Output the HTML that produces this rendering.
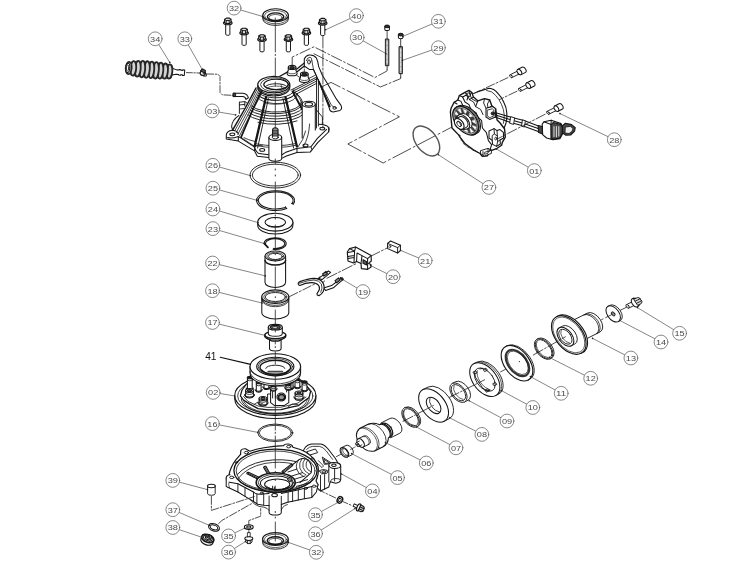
<!DOCTYPE html>
<html><head><meta charset="utf-8"><title>Exploded view</title>
<style>
html,body{margin:0;padding:0;background:#fff;}
svg{display:block;font-family:"Liberation Sans",sans-serif;}
</style></head><body>
<svg width="737" height="573" viewBox="0 0 737 573" stroke-linecap="round" stroke-linejoin="round">
<rect width="737" height="573" fill="#fff"/>
<defs><filter id="soft" x="0" y="0" width="100%" height="100%" filterUnits="userSpaceOnUse"><feGaussianBlur stdDeviation="0.38"/></filter></defs>
<g filter="url(#soft)">
<path d="M262.8 15.2 v3.8 A12.8 6.4 0 0 0 288.40000000000003 19.0 v-3.8" fill="#fff" stroke="#141414" stroke-width="0.91" />
<path d="M262.8 17.4 A12.8 6.4 0 0 0 288.40000000000003 17.4" fill="none" stroke="#141414" stroke-width="0.68" />
<ellipse cx="275.6" cy="15.2" rx="12.8" ry="6.4" fill="#fff" stroke="#141414" stroke-width="1.14" />
<ellipse cx="275.6" cy="15.6" rx="11.0" ry="5.2" fill="none" stroke="#141414" stroke-width="0.68" />
<ellipse cx="275.6" cy="16.8" rx="8.2" ry="3.9" fill="none" stroke="#141414" stroke-width="1.37" />
<ellipse cx="275.6" cy="17.4" rx="6.6" ry="2.9" fill="none" stroke="#141414" stroke-width="0.68" />
<path d="M225.70000000000002 24.7 V34.3 a2.1 1 0 0 0 4.2 0 V24.7" fill="#fff" stroke="#141414" stroke-width="0.97" />
<path d="M223.5 22.9 a4.3 1.9 0 0 0 8.6 0 a4.3 1.9 0 0 0 -8.6 0z" fill="#ccc" stroke="#141414" stroke-width="1.14" />
<path d="M224.60000000000002 19.4 L226.4 18.099999999999998 L229.4 18.099999999999998 L231.0 19.4 L231.0 22.5 L229.20000000000002 23.599999999999998 L226.20000000000002 23.599999999999998 L224.60000000000002 22.5z" fill="#ddd" stroke="#141414" stroke-width="1.14" />
<path d="M224.60000000000002 19.4 L226.20000000000002 20.5 L229.20000000000002 20.5 L231.0 19.4 M226.20000000000002 20.5 V23.599999999999998 M229.20000000000002 20.5 V23.599999999999998" fill="none" stroke="#141414" stroke-width="0.91" />
<path d="M242.0 34.8 V44.4 a2.1 1 0 0 0 4.2 0 V34.8" fill="#fff" stroke="#141414" stroke-width="0.97" />
<path d="M239.79999999999998 33.0 a4.3 1.9 0 0 0 8.6 0 a4.3 1.9 0 0 0 -8.6 0z" fill="#ccc" stroke="#141414" stroke-width="1.14" />
<path d="M240.9 29.5 L242.7 28.2 L245.7 28.2 L247.29999999999998 29.5 L247.29999999999998 32.6 L245.5 33.7 L242.5 33.7 L240.9 32.6z" fill="#ddd" stroke="#141414" stroke-width="1.14" />
<path d="M240.9 29.5 L242.5 30.6 L245.5 30.6 L247.29999999999998 29.5 M242.5 30.6 V33.7 M245.5 30.6 V33.7" fill="none" stroke="#141414" stroke-width="0.91" />
<path d="M259.9 41.3 V50.9 a2.1 1 0 0 0 4.2 0 V41.3" fill="#fff" stroke="#141414" stroke-width="0.97" />
<path d="M257.7 39.5 a4.3 1.9 0 0 0 8.6 0 a4.3 1.9 0 0 0 -8.6 0z" fill="#ccc" stroke="#141414" stroke-width="1.14" />
<path d="M258.8 36.0 L260.6 34.699999999999996 L263.6 34.699999999999996 L265.2 36.0 L265.2 39.099999999999994 L263.4 40.199999999999996 L260.4 40.199999999999996 L258.8 39.099999999999994z" fill="#ddd" stroke="#141414" stroke-width="1.14" />
<path d="M258.8 36.0 L260.4 37.099999999999994 L263.4 37.099999999999994 L265.2 36.0 M260.4 37.099999999999994 V40.199999999999996 M263.4 37.099999999999994 V40.199999999999996" fill="none" stroke="#141414" stroke-width="0.91" />
<path d="M286.29999999999995 41.3 V50.9 a2.1 1 0 0 0 4.2 0 V41.3" fill="#fff" stroke="#141414" stroke-width="0.97" />
<path d="M284.09999999999997 39.5 a4.3 1.9 0 0 0 8.6 0 a4.3 1.9 0 0 0 -8.6 0z" fill="#ccc" stroke="#141414" stroke-width="1.14" />
<path d="M285.2 36.0 L287.0 34.699999999999996 L290.0 34.699999999999996 L291.59999999999997 36.0 L291.59999999999997 39.099999999999994 L289.79999999999995 40.199999999999996 L286.79999999999995 40.199999999999996 L285.2 39.099999999999994z" fill="#ddd" stroke="#141414" stroke-width="1.14" />
<path d="M285.2 36.0 L286.79999999999995 37.099999999999994 L289.79999999999995 37.099999999999994 L291.59999999999997 36.0 M286.79999999999995 37.099999999999994 V40.199999999999996 M289.79999999999995 37.099999999999994 V40.199999999999996" fill="none" stroke="#141414" stroke-width="0.91" />
<path d="M304.29999999999995 34.8 V44.4 a2.1 1 0 0 0 4.2 0 V34.8" fill="#fff" stroke="#141414" stroke-width="0.97" />
<path d="M302.09999999999997 33.0 a4.3 1.9 0 0 0 8.6 0 a4.3 1.9 0 0 0 -8.6 0z" fill="#ccc" stroke="#141414" stroke-width="1.14" />
<path d="M303.2 29.5 L305.0 28.2 L308.0 28.2 L309.59999999999997 29.5 L309.59999999999997 32.6 L307.79999999999995 33.7 L304.79999999999995 33.7 L303.2 32.6z" fill="#ddd" stroke="#141414" stroke-width="1.14" />
<path d="M303.2 29.5 L304.79999999999995 30.6 L307.79999999999995 30.6 L309.59999999999997 29.5 M304.79999999999995 30.6 V33.7 M307.79999999999995 30.6 V33.7" fill="none" stroke="#141414" stroke-width="0.91" />
<path d="M320.59999999999997 25 V34.6 a2.1 1 0 0 0 4.2 0 V25" fill="#fff" stroke="#141414" stroke-width="0.97" />
<path d="M318.4 23.2 a4.3 1.9 0 0 0 8.6 0 a4.3 1.9 0 0 0 -8.6 0z" fill="#ccc" stroke="#141414" stroke-width="1.14" />
<path d="M319.5 19.7 L321.3 18.4 L324.3 18.4 L325.9 19.7 L325.9 22.8 L324.09999999999997 23.9 L321.09999999999997 23.9 L319.5 22.8z" fill="#ddd" stroke="#141414" stroke-width="1.14" />
<path d="M319.5 19.7 L321.09999999999997 20.8 L324.09999999999997 20.8 L325.9 19.7 M321.09999999999997 20.8 V23.9 M324.09999999999997 20.8 V23.9" fill="none" stroke="#141414" stroke-width="0.91" />
<g transform="rotate(4.9 150 70)">
<path d="M172 66.4 l4.6 1.2 h2.4 v-0.6 h2 v0.6 h1.6 v-0.6 h2 v5.6 h-2 v-0.6 h-1.6 v0.6 h-2 v-0.6 h-2.4 l-4.6 1.2z" fill="#fff" stroke="#141414" stroke-width="1.03" />
<ellipse cx="169.5" cy="69.8" rx="2.9" ry="7.1" fill="#d4d4d4" stroke="#262626" stroke-width="1.82" />
<ellipse cx="165.0" cy="69.8" rx="2.9" ry="7.6" fill="#d4d4d4" stroke="#262626" stroke-width="1.82" />
<ellipse cx="160.4" cy="69.8" rx="2.9" ry="8.0" fill="#d4d4d4" stroke="#262626" stroke-width="1.82" />
<ellipse cx="155.9" cy="69.8" rx="2.9" ry="8.2" fill="#d4d4d4" stroke="#262626" stroke-width="1.82" />
<ellipse cx="151.3" cy="69.8" rx="2.9" ry="8.3" fill="#d4d4d4" stroke="#262626" stroke-width="1.82" />
<ellipse cx="146.8" cy="69.8" rx="2.9" ry="8.3" fill="#d4d4d4" stroke="#262626" stroke-width="1.82" />
<ellipse cx="142.2" cy="69.8" rx="2.9" ry="8.2" fill="#d4d4d4" stroke="#262626" stroke-width="1.82" />
<ellipse cx="137.7" cy="69.8" rx="2.9" ry="7.9" fill="#d4d4d4" stroke="#262626" stroke-width="1.82" />
<ellipse cx="133.2" cy="69.8" rx="2.9" ry="7.3" fill="#d4d4d4" stroke="#262626" stroke-width="1.82" />
<ellipse cx="128.6" cy="69.8" rx="2.9" ry="6.2" fill="#d4d4d4" stroke="#262626" stroke-width="1.82" />
<ellipse cx="127.7" cy="69.8" rx="2.0" ry="4.6" fill="#fff" stroke="#141414" stroke-width="1.03" />
<ellipse cx="127.5" cy="69.8" rx="1.2" ry="3.2" fill="none" stroke="#141414" stroke-width="0.80" />
</g>
<path d="M186.4 72.6 L199.6 73.0" fill="none" stroke="#222" stroke-width="0.80" stroke-dasharray="6 1.5 1.5 1.5"/>
<g transform="translate(-0.4 2.2)">
<path d="M200.6 70.6 a2.6 2.3 0 1 0 5.2 0.6 a2.6 2.3 0 1 0 -5.2 -0.6z" fill="#fff" stroke="#141414" stroke-width="1.25" />
<path d="M200.8 68.6 l2.2 -1.8 l2.8 1.4 l-0.4 2.4 l-2.6 -0.8z" fill="#555" stroke="#141414" stroke-width="1.03" />
<path d="M203.5 71.5 h3.2 v2.4 h-2.8" fill="none" stroke="#141414" stroke-width="0.91" />
</g>
<path d="M206.6 74.0 L218 74.2 L220.0 76.5 L220.0 92.5 L222.2 94.8 L233 95.4" fill="none" stroke="#222" stroke-width="0.80" stroke-dasharray="7 1.6 1.6 1.6"/>
<path d="M304.3 66 L304.3 59 Q305.6 55.6 309 55 Q313.6 54.4 316.4 58 Q318 61.4 318.6 66.4 L322.2 75 L328.7 85.8 L336.3 98.9 L341 105.4 Q342.6 108.6 340 110.4 L333 112 Q329.6 111.4 329.4 108.4 L318.9 81.5 L313.5 69.5 L309.6 69.6z" fill="#fff" stroke="#141414" stroke-width="1.03" />
<path d="M311.9 60.9 L313.5 69.5 L317.8 79.3 L325.4 93.4 L331 104.4 Q332.4 107.6 335.6 107.2" fill="none" stroke="#141414" stroke-width="0.80" />
<path d="M306.4 60.6 Q307 57.6 310 57.2 Q312 57.4 311.9 60.9" fill="none" stroke="#141414" stroke-width="0.80" />
<path d="M318.9 81.5 L329.8 106.5" fill="none" stroke="#141414" stroke-width="1.71" />
<ellipse cx="309.0" cy="62.0" rx="1.4" ry="2.1" fill="none" stroke="#141414" stroke-width="0.91" />
<ellipse cx="334.6" cy="108.0" rx="1.7" ry="1.3" fill="none" stroke="#141414" stroke-width="0.91" />
<path d="M316.5 78.2 V128 M318.4 79.6 V126" fill="none" stroke="#141414" stroke-width="0.91" />
<path d="M288.5 91.3 L316.7 77.1 M289.4 92.9 L316.7 78.9 M290.6 94.6 L316.7 81 M292 96.4 L316.5 83.4" fill="none" stroke="#141414" stroke-width="0.91" />
<path d="M279 76.8 L288.2 71.6 M296.6 69.2 L304.3 63 M297.4 71.4 L304.3 66" fill="none" stroke="#141414" stroke-width="1.25" />
<path d="M296.8 75.4 L300 77.6 M308.8 78.4 L314.6 75.6" fill="none" stroke="#141414" stroke-width="0.80" />
<path d="M288.3 67.4 v3 q-1.2 1.6 -1.2 3 a5 2.4 0 0 0 10 0 q0 -1.4 -1.2 -3 v-3" fill="#fff" stroke="#141414" stroke-width="1.03" />
<path d="M287.70000000000005 71.80000000000001 a4.4 2 0 0 0 8.8 0" fill="none" stroke="#141414" stroke-width="0.68" />
<ellipse cx="292.1" cy="67.4" rx="3.8" ry="2.0" fill="#fff" stroke="#141414" stroke-width="1.14" />
<ellipse cx="292.1" cy="67.60000000000001" rx="2.3" ry="1.15" fill="#333" stroke="#141414" stroke-width="1.14" />
<path d="M300.5 74.1 v3 q-1.2 1.6 -1.2 3 a5 2.4 0 0 0 10 0 q0 -1.4 -1.2 -3 v-3" fill="#fff" stroke="#141414" stroke-width="1.03" />
<path d="M299.90000000000003 78.5 a4.4 2 0 0 0 8.8 0" fill="none" stroke="#141414" stroke-width="0.68" />
<ellipse cx="304.3" cy="74.1" rx="3.8" ry="2.0" fill="#fff" stroke="#141414" stroke-width="1.14" />
<ellipse cx="304.3" cy="74.3" rx="2.3" ry="1.15" fill="#333" stroke="#141414" stroke-width="1.14" />
<path d="M296.6 93.6 Q302.4 98 303.4 106 M316.5 110 L322.4 117 L322.4 124.6" fill="none" stroke="#141414" stroke-width="0.91" />
<path d="M259.8 90 L234 131 L254 148 L297 148 L303 128 L303 106 Q301 97 290 90z" fill="#fff" stroke="#fff" stroke-width="0.01" />
<path d="M259 93.3 A18.4 8 0 0 0 294.0 89.6" fill="none" stroke="#141414" stroke-width="0.91" />
<path d="M258.5 95.3 A19 8 0 0 0 295.0 91.6" fill="none" stroke="#141414" stroke-width="1.03" />
<path d="M257.5 97.6 A20 8.4 0 0 0 296.4 93.8" fill="none" stroke="#141414" stroke-width="0.80" />
<path d="M264 102.8 A20.6 8.6 0 0 0 287 102.7" fill="none" stroke="#141414" stroke-width="0.68" />
<path d="M251.5 105.9 A26 10 0 0 0 301.5 101.9" fill="none" stroke="#141414" stroke-width="0.91" />
<path d="M251 107.8 A26.8 10.2 0 0 0 302 104.4" fill="none" stroke="#141414" stroke-width="0.91" />
<path d="M250 110.1 A28 10.6 0 0 0 302.6 108.0" fill="none" stroke="#141414" stroke-width="0.91" />
<path d="M249 112.5 A29 11 0 0 0 303 111.2" fill="none" stroke="#141414" stroke-width="0.91" />
<path d="M248 114.9 A30 11.4 0 0 0 303.2 114.4" fill="none" stroke="#141414" stroke-width="0.91" />
<path d="M258 122.3 A31 11.8 0 0 0 297 120.9" fill="none" stroke="#141414" stroke-width="0.91" />
<path d="M256 143.8 A38 13 0 0 0 296 143.5" fill="none" stroke="#141414" stroke-width="0.80" />
<path d="M255 145.4 A38.6 13.2 0 0 0 297 145.1" fill="none" stroke="#141414" stroke-width="0.80" />
<path d="M244 137.7 A37 12.6 0 0 0 255 141.5" fill="none" stroke="#141414" stroke-width="0.80" />
<path d="M257.8 85 v2.6 A16 8.4 0 0 0 289.8 87.6 v-2.6" fill="#fff" stroke="#141414" stroke-width="1.03" />
<path d="M257.8 86.4 A16 8.4 0 0 0 289.8 86.4" fill="none" stroke="#141414" stroke-width="0.91" />
<ellipse cx="273.8" cy="84.6" rx="16" ry="8.3" fill="#fff" stroke="#141414" stroke-width="1.25" />
<ellipse cx="274.6" cy="84.6" rx="14" ry="6.9" fill="none" stroke="#141414" stroke-width="0.80" />
<ellipse cx="276" cy="84.4" rx="12.2" ry="5.2" fill="none" stroke="#141414" stroke-width="1.25" />
<path d="M265.4 86.6 A11.4 4.2 0 0 1 287 86.6" fill="none" stroke="#141414" stroke-width="0.91" />
<path d="M266.8 88.2 A10 3.2 0 0 1 285.6 88.2" fill="none" stroke="#141414" stroke-width="0.68" />
<path d="M281 84.4 l0.8 3.4" fill="none" stroke="#141414" stroke-width="0.68" />
<path d="M266 97.2 L254.6 146.4" fill="none" stroke="#141414" stroke-width="2.28" />
<path d="M268.4 98.6 L257.6 148" fill="none" stroke="#141414" stroke-width="0.91" />
<path d="M285.5 97.2 L296.9 146.4" fill="none" stroke="#141414" stroke-width="2.28" />
<path d="M283 98.6 L293.6 148" fill="none" stroke="#141414" stroke-width="0.91" />
<path d="M292.6 91.6 L302 109" fill="none" stroke="#141414" stroke-width="1.94" />
<path d="M295.4 92.4 Q300.6 98.4 302 104" fill="none" stroke="#141414" stroke-width="0.80" />
<path d="M256 88 L245.3 108 L232.9 129.6" fill="none" stroke="#141414" stroke-width="1.48" />
<path d="M262 91 L253.5 108 L241 137.3" fill="none" stroke="#141414" stroke-width="1.71" />
<path d="M257.4 88.8 L246.8 109 L234.6 131 M258.8 89.6 L248.4 110 L236.2 132.6 M260 90.4 L250 111 L237.8 134.4 M261 91 L251.6 112 L239.4 136" fill="none" stroke="#141414" stroke-width="0.80" />
<path d="M239.4 102.2 L244.8 101.6 L247 103 M239.4 102.2 V113.4 M244.8 101.6 V106 M239.4 105 L244.6 104.4" fill="none" stroke="#141414" stroke-width="0.91" />
<path d="M238.8 115.6 Q232 120 231.6 126.6 L232.6 130" fill="none" stroke="#141414" stroke-width="1.03" />
<path d="M240 109 l4 -0.6" fill="none" stroke="#141414" stroke-width="0.80" />
<path d="M302.2 104.2 V139 L315.3 131 V104.2z" fill="#fff" stroke="#fff" stroke-width="0.01" />
<path d="M302.2 104.2 V138 M315.3 104.2 V130" fill="none" stroke="#141414" stroke-width="1.03" />
<ellipse cx="308.75" cy="104.2" rx="6.55" ry="3.0" fill="#fff" stroke="#141414" stroke-width="1.14" />
<ellipse cx="308.75" cy="104.3" rx="3.8" ry="1.7" fill="none" stroke="#141414" stroke-width="1.03" />
<path d="M305.6 131 Q303.6 140 298 147 M309.6 124 Q309 137 303.6 146" fill="none" stroke="#141414" stroke-width="0.80" />
<path d="M226.3 135.1 Q226.6 131 232.3 130.3 Q237.6 130.6 238.3 134 M226.3 135.1 V139 L238.3 141.1 L254.6 150.9 L257.3 156.3 L268.9 157.6 M227.6 137.6 Q232 139 238.3 136.4 L254.6 147.1 Q256 152 259 153.6 L268.9 154.7 M238.3 136.4 V141.1 M254.6 147.1 V150.9" fill="none" stroke="#141414" stroke-width="1.03" />
<path d="M254.6 146.4 Q258 145 262.4 145.6" fill="none" stroke="#141414" stroke-width="0.80" />
<path d="M281.7 155 L285.2 152.6 L296.5 148.6 L311 146.8 M281.7 158.4 L286.4 156 L297 152.6 L310.4 152 L317.7 142.6 L327.6 133 Q329.6 131 328.8 127.6 Q326.4 124.4 319 124.2 M311 146.8 L317.4 138.4 L326.6 129.4 M297 148.6 V152.6" fill="none" stroke="#141414" stroke-width="1.03" />
<path d="M310.4 152 Q313.4 150 311 146.8 M328.8 128 v4" fill="none" stroke="#141414" stroke-width="0.91" />
<ellipse cx="232.3" cy="134.3" rx="2.5" ry="1.4" fill="none" stroke="#141414" stroke-width="1.03" />
<ellipse cx="262.2" cy="149.9" rx="2.5" ry="1.4" fill="none" stroke="#141414" stroke-width="1.03" />
<ellipse cx="305.5" cy="145.4" rx="2.5" ry="1.4" fill="none" stroke="#141414" stroke-width="1.03" />
<ellipse cx="322.3" cy="128.6" rx="2.4" ry="1.4" fill="none" stroke="#141414" stroke-width="1.03" />
<path d="M241 137.3 L254.6 146.4" fill="none" stroke="#141414" stroke-width="0.80" />
<path d="M268.9 137.4 V158.6 A6.4 2.6 0 0 0 281.7 158.6 V137.4z" fill="#fff" stroke="#141414" stroke-width="1.03" />
<ellipse cx="275.3" cy="137.4" rx="6.4" ry="3.0" fill="#fff" stroke="#141414" stroke-width="1.14" />
<ellipse cx="275.3" cy="137.5" rx="3.0" ry="1.4" fill="none" stroke="#141414" stroke-width="0.91" />
<path d="M272.6 137 V129 q2.7 -2.6 5.4 0 V137" fill="#999" stroke="#141414" stroke-width="1.03" />
<path d="M272.6 130.4 h5.4 M272.6 132 h5.4 M272.6 133.6 h5.4 M272.6 135.2 h5.4" fill="none" stroke="#141414" stroke-width="0.68" />
<path d="M233.4 93.2 h9.4 q4.6 0.4 5.6 4.6 l-2.4 1.6 q-0.8 -2.8 -3.6 -2.8 h-9z" fill="#fff" stroke="#141414" stroke-width="1.03" />
<path d="M233.4 93.2 h2.2 v3.4 h-2.2z" fill="#444" stroke="#141414" stroke-width="0.91" />
<path d="M322.9 36 L322.9 128" fill="none" stroke="#222" stroke-width="0.80" stroke-dasharray="12 2 2 2"/>
<path d="M292.2 66 L292.2 57.1 L313.9 46.8 L375 77.5 L387.1 70.9 L387.1 69.2" fill="none" stroke="#222" stroke-width="0.80" stroke-dasharray="11 2.4 1.8 2.4"/>
<path d="M304.3 72 L304.3 66.5" fill="none" stroke="#222" stroke-width="0.80" stroke-dasharray="3 1.5"/>
<path d="M314 53.8 L380.4 87 L400.7 78.6 L400.7 77.2" fill="none" stroke="#222" stroke-width="0.80" stroke-dasharray="11 2.4 1.8 2.4"/>
<path d="M322 86.6 L331 82.4 L399.4 116.8 L347.8 144 L383.1 163 L452 127" fill="none" stroke="#222" stroke-width="0.80" stroke-dasharray="20 3 2 3"/>
<path d="M385.40000000000003 39.4 V65.7 h3.4 V39.4z" fill="#999" stroke="#141414" stroke-width="0.91" />
<path d="M387.1 41.4 V64.2" fill="none" stroke="#eee" stroke-width="1.03" stroke-dasharray="3.2 1.4"/>
<line x1="387.1" y1="29.799999999999997" x2="387.1" y2="39.4" stroke="#141414" stroke-width="0.80" />
<line x1="387.1" y1="65.7" x2="387.1" y2="69.10000000000001" stroke="#141414" stroke-width="0.80" />
<path d="M384.8 26.4 v3 a2.3 1.2 0 0 0 4.6 0 v-3z" fill="#fff" stroke="#141414" stroke-width="1.03" />
<ellipse cx="387.1" cy="26.4" rx="2.3" ry="1.3" fill="#333" stroke="#141414" stroke-width="1.03" />
<path d="M399.0 47 V73.7 h3.4 V47z" fill="#999" stroke="#141414" stroke-width="0.91" />
<path d="M400.7 49 V72.2" fill="none" stroke="#eee" stroke-width="1.03" stroke-dasharray="3.2 1.4"/>
<line x1="400.7" y1="38.0" x2="400.7" y2="47" stroke="#141414" stroke-width="0.80" />
<line x1="400.7" y1="73.7" x2="400.7" y2="77.10000000000001" stroke="#141414" stroke-width="0.80" />
<path d="M398.4 34.6 v3 a2.3 1.2 0 0 0 4.6 0 v-3z" fill="#fff" stroke="#141414" stroke-width="1.03" />
<ellipse cx="400.7" cy="34.6" rx="2.3" ry="1.3" fill="#333" stroke="#141414" stroke-width="1.03" />
<g transform="translate(426.4 141) scale(1.1547 1) rotate(-30)">
<ellipse cx="0" cy="0" rx="9.41" ry="16.30" fill="none" stroke="#555" stroke-width="1.42" vector-effect="non-scaling-stroke"/>
</g>
<path d="M477.1 91.9 L489 88.2 Q494.6 88.6 497.9 93.4 Q502 97.6 503.8 102.3 Q506.6 107.6 506.8 112.7 Q507.4 118 506 123 L503.8 129 L498 139 L480 150z" fill="#fff" stroke="#fff" stroke-width="0.01" />
<path d="M473.6 93.4 L477.1 91.9 L489 88.2 Q494.6 88.6 497.9 93.4 Q502 97.6 503.8 102.3 Q506.6 107.6 506.8 112.7 Q507.4 118 506 123 L503.8 129" fill="none" stroke="#141414" stroke-width="1.14" />
<path d="M486.6 90.4 Q492.6 91 495.6 95.4 Q499.6 99.6 501.4 104.3 Q504 109.6 504.2 114.7 Q504.6 119 503.4 123.4" fill="none" stroke="#141414" stroke-width="0.80" />
<path d="M451.1 108.2 L454.1 102.3 L457.8 100 L459.3 95.6 L464.5 92.6 L468.9 90.4 L471.9 92.6 L473.4 97.1 L477.8 100.8 L484.5 98.6 L489.7 100 L491.9 106 L495.7 108.9 L497.1 120.1 L500.1 123 L504.6 129 L505.3 137.1 L502.3 142.3 L501.6 145.3 L497.1 148.3 L489.7 151.2 L487.5 155.7 L482.3 156.4 L480.1 153.5 L473.4 149.8 L465.2 143.8 L460 137.1 L458.6 134.9 L452 128 L450.4 111.9z" fill="#fff" stroke="#141414" stroke-width="1.37" />
<path d="M459.3 95.6 L462.6 97 L465 102 L469 104.6 L471 109.6 L476 112.6 L478.4 117.6 L481.6 120.6 L482.4 128 L486.4 132.6 L488.4 140.6 L491.6 144.6 L489.7 151.2" fill="none" stroke="#141414" stroke-width="1.03" />
<path d="M464.5 92.6 L467.4 94.4 L469.4 99.6 L473.6 102 L475.6 106.6 L480.6 109.4 L483 114.6 M468.9 90.4 L470 95 M471.9 92.6 L470 95 L472 99 L476.4 101.4 L477.8 100.8" fill="none" stroke="#141414" stroke-width="0.91" />
<path d="M484.5 98.6 L483.6 103 L486 108.2 M489.7 100 L487.4 104 L488 108" fill="none" stroke="#141414" stroke-width="0.91" />
<path d="M457.8 100 L461 101.4 L463 106 M454.1 102.3 L457 104 M462.6 97 L466.4 95 L468 96.6 L467 100 M473.4 97.1 L471 98.6 L469.4 99.6 M477.8 100.8 L476.4 104.6 L475.6 106.6 M491.9 106 L489 107.6 M495.7 108.9 L495.4 108.6" fill="none" stroke="#141414" stroke-width="1.03" />
<path d="M466.6 93.4 Q469 92.4 470.4 93.6 Q471 95.4 469.6 96.6 Q467.4 97.2 466.4 95.8z" fill="none" stroke="#141414" stroke-width="0.91" />
<path d="M486 108.2 L492.6 106.6 L495.4 108.6 L495.4 117 L489.6 119.4 L486 117z" fill="#fff" stroke="#141414" stroke-width="1.03" />
<path d="M487.6 110 L492.4 108.8 L493.8 110 L493.8 116 L489.8 117.6 L487.6 116.2z" fill="none" stroke="#141414" stroke-width="0.80" />
<ellipse cx="492.7" cy="113.4" rx="1.6" ry="1.5" fill="#333" stroke="#141414" stroke-width="0.91" />
<path d="M489 131 L494 128.6 L497 130.6 L500 129.6 L503.4 132.4 L503.6 138 L500 140 L500.4 144 L496.6 146.4 L492.6 144.4 L492.2 140.4 L489 138z" fill="#fff" stroke="#141414" stroke-width="1.03" />
<path d="M494 128.6 L494.4 134 L497.4 136 L497 130.6 M497.4 136 L497.6 141.6 L500 140 M494.4 134 L492.2 135.6 L492.2 140.4 M497.6 141.6 L496.6 146.4" fill="none" stroke="#141414" stroke-width="0.91" />
<ellipse cx="495.8" cy="138.6" rx="1.1" ry="1.4" fill="none" stroke="#141414" stroke-width="0.80" />
<path d="M480.8 150.6 L488 148.4 L491.4 150 L491.4 153.4 L484.6 156 L481 154z M483 151.6 L483 155 M488 148.4 L488.2 152 L491.4 150" fill="#fff" stroke="#141414" stroke-width="0.91" />
<path d="M485 152.2 l3 -1 v2 l-3 1z" fill="none" stroke="#141414" stroke-width="0.80" />
<path d="M458.6 134.9 l1.6 0.4 l-0.6 1.8 l1.8 1.6 l-0.4 1.4 l2.2 2.2 l0.2 1.4 l2.6 1.6 l1.6 1.8 l2.6 1 l2.6 2 l3.2 1 l1.6 1.6" fill="none" stroke="#141414" stroke-width="0.68" />
<g transform="translate(465.6 120.7) scale(1.1547 1) rotate(-30)">
<path d="M0 -15.80 H2.0 A9.12 15.80 0 0 1 2.0 15.80 H0z" fill="#fff" stroke="#141414" stroke-width="1.03" vector-effect="non-scaling-stroke" />
<path d="M1.00 -15.80 A9.12 15.80 0 0 1 1.00 15.80" fill="none" stroke="#141414" stroke-width="0.80" vector-effect="non-scaling-stroke" />
<ellipse cx="0" cy="0" rx="9.12" ry="15.80" fill="#3c3c3c" stroke="#141414" stroke-width="1.14" vector-effect="non-scaling-stroke"/>
<ellipse cx="0" cy="0" rx="8.37" ry="14.50" fill="none" stroke="#ddd" stroke-width="0.68" vector-effect="non-scaling-stroke"/>
<path d="M-4.72 -10.10 L-2.69 -12.14 L-2.19 -6.58z" fill="#fff" stroke="#fff" stroke-width="0.46" vector-effect="non-scaling-stroke" />
<path d="M-0.39 -12.98 L1.94 -12.56 L0.46 -7.56z" fill="#fff" stroke="#fff" stroke-width="0.46" vector-effect="non-scaling-stroke" />
<path d="M4.09 -10.90 L5.83 -8.18 L2.94 -5.65z" fill="#fff" stroke="#fff" stroke-width="0.46" vector-effect="non-scaling-stroke" />
<path d="M7.01 -4.66 L7.50 -0.68 L4.29 -1.58z" fill="#fff" stroke="#fff" stroke-width="0.46" vector-effect="non-scaling-stroke" />
<path d="M7.25 3.36 L6.29 7.08 L4.01 3.09z" fill="#fff" stroke="#fff" stroke-width="0.46" vector-effect="non-scaling-stroke" />
<path d="M4.72 10.10 L2.69 12.14 L2.19 6.58z" fill="#fff" stroke="#fff" stroke-width="0.46" vector-effect="non-scaling-stroke" />
<path d="M0.39 12.98 L-1.94 12.56 L-0.46 7.56z" fill="#fff" stroke="#fff" stroke-width="0.46" vector-effect="non-scaling-stroke" />
<path d="M-4.09 10.90 L-5.83 8.18 L-2.94 5.65z" fill="#fff" stroke="#fff" stroke-width="0.46" vector-effect="non-scaling-stroke" />
<path d="M-2.4 -8.00 H0 A4.62 8.00 0 0 1 0 8.00 H-2.4z" fill="#fff" stroke="#141414" stroke-width="0.91" vector-effect="non-scaling-stroke" />
<ellipse cx="-2.4" cy="0" rx="4.62" ry="8.00" fill="#fff" stroke="#141414" stroke-width="1.03" vector-effect="non-scaling-stroke"/>
<path d="M-6.4 -6.00 H-2.4 A3.46 6.00 0 0 1 -2.4 6.00 H-6.4z" fill="#fff" stroke="#141414" stroke-width="1.03" vector-effect="non-scaling-stroke" />
<ellipse cx="-6.4" cy="0" rx="3.46" ry="6.00" fill="#fff" stroke="#141414" stroke-width="1.14" vector-effect="non-scaling-stroke"/>
<path d="M-7.2 -2.4 L-5.6 -2.4 L-5.6 2.4 L-7.2 2.4" fill="none" stroke="#141414" stroke-width="0.91" vector-effect="non-scaling-stroke" />
<ellipse cx="-6.4" cy="0" rx="1.73" ry="3.00" fill="none" stroke="#141414" stroke-width="0.80" vector-effect="non-scaling-stroke"/>
</g>
<path d="M494.8 112.6 L512 117.6 L524 120.6 L538.4 126 M494.8 114.8 L511.4 120 L523 123.2 L538.2 128.6 M495 117 L510.6 122.4 L522.6 125.8 L538.2 131.4" fill="none" stroke="#141414" stroke-width="1.03" />
<path d="M511 116.8 l3.6 1 l-1 6.6 l-3.6 -1z M522.8 120 l2.6 0.8 l-1 6.2 l-2.6 -0.8z" fill="#fff" stroke="#141414" stroke-width="0.91" />
<path d="M542.2 124 L544 121.8 L551.2 120.2 L561 123.6 L562.6 127 L562.4 134 L560 138.6 L553 139.6 L546.6 138 L542.6 134.6z" fill="#fff" stroke="#141414" stroke-width="1.14" />
<path d="M544 121.8 L551 124.6 L551.2 120.2 M551 124.6 L551.2 139.2" fill="none" stroke="#141414" stroke-width="1.03" />
<path d="M551 124.6 L553.4 122.4 L560.6 124.4 L562.4 127.4 L562.2 133.6 L559.8 138 L553.4 139.2 L551.2 138z" fill="#4a4a4a" stroke="#141414" stroke-width="1.03" />
<path d="M554 126.6 V136.6 M556.4 126.4 V136.8 M558.8 126.6 V136" fill="none" stroke="#ddd" stroke-width="1.03" />
<path d="M538.1 125.6 L542.2 126.4 L542.6 134 L538.6 132.6z" fill="#444" stroke="#141414" stroke-width="1.03" />
<path d="M562.6 125.6 L565.4 123.2 L571.6 124.6 L575.2 127.6 L574.6 131 L570.6 135 L566 135.2 L562.6 133z" fill="#4a4a4a" stroke="#141414" stroke-width="1.14" />
<path d="M565.6 127 L570.6 126.4 L573 128.6 L572 131.4 L569 133.6 L565.2 133z" fill="#eee" stroke="#222" stroke-width="0.91" />
<g transform="translate(511 76.2) scale(1.1547 1) rotate(-30)">
<path d="M0 -1.60 H8.4 A0.92 1.60 0 0 1 8.4 1.60 H0z" fill="#fff" stroke="#141414" stroke-width="0.91" vector-effect="non-scaling-stroke" />
<ellipse cx="0" cy="0" rx="0.92" ry="1.60" fill="#fff" stroke="#141414" stroke-width="0.91" vector-effect="non-scaling-stroke"/>
<path d="M8.4 -3.00 H12.8 A1.73 3.00 0 0 1 12.8 3.00 H8.4z" fill="#fff" stroke="#141414" stroke-width="1.03" vector-effect="non-scaling-stroke" />
<ellipse cx="8.4" cy="0" rx="1.73" ry="3.00" fill="#fff" stroke="#141414" stroke-width="1.03" vector-effect="non-scaling-stroke"/>
</g>
<g transform="translate(519.8 89.8) scale(1.1547 1) rotate(-30)">
<path d="M0 -1.60 H8.4 A0.92 1.60 0 0 1 8.4 1.60 H0z" fill="#fff" stroke="#141414" stroke-width="0.91" vector-effect="non-scaling-stroke" />
<ellipse cx="0" cy="0" rx="0.92" ry="1.60" fill="#fff" stroke="#141414" stroke-width="0.91" vector-effect="non-scaling-stroke"/>
<path d="M8.4 -3.00 H12.8 A1.73 3.00 0 0 1 12.8 3.00 H8.4z" fill="#fff" stroke="#141414" stroke-width="1.03" vector-effect="non-scaling-stroke" />
<ellipse cx="8.4" cy="0" rx="1.73" ry="3.00" fill="#fff" stroke="#141414" stroke-width="1.03" vector-effect="non-scaling-stroke"/>
</g>
<g transform="translate(548 112.8) scale(1.1547 1) rotate(-30)">
<path d="M0 -1.60 H8.4 A0.92 1.60 0 0 1 8.4 1.60 H0z" fill="#fff" stroke="#141414" stroke-width="0.91" vector-effect="non-scaling-stroke" />
<ellipse cx="0" cy="0" rx="0.92" ry="1.60" fill="#fff" stroke="#141414" stroke-width="0.91" vector-effect="non-scaling-stroke"/>
<path d="M8.4 -3.00 H12.8 A1.73 3.00 0 0 1 12.8 3.00 H8.4z" fill="#fff" stroke="#141414" stroke-width="1.03" vector-effect="non-scaling-stroke" />
<ellipse cx="8.4" cy="0" rx="1.73" ry="3.00" fill="#fff" stroke="#141414" stroke-width="1.03" vector-effect="non-scaling-stroke"/>
</g>
<path d="M508 77.6 L477.5 91.8" fill="none" stroke="#222" stroke-width="0.80" stroke-dasharray="9 2 2 2"/>
<path d="M517 91.2 L499.4 99.6" fill="none" stroke="#222" stroke-width="0.80" stroke-dasharray="9 2 2 2"/>
<path d="M545 114.3 L498 138.6" fill="none" stroke="#222" stroke-width="0.80" stroke-dasharray="10 2 2 2"/>
<ellipse cx="275.3" cy="175.1" rx="25.3" ry="12.9" fill="none" stroke="#141414" stroke-width="0.91" />
<ellipse cx="275.3" cy="175.1" rx="22.9" ry="10.9" fill="none" stroke="#141414" stroke-width="0.85" />
<path d="M286.8 208.5 A19 9.8 0 1 1 293.3 204.1 M285.3 207.6 A17.4 8.5 0 1 1 292.1 203.4" fill="none" stroke="#141414" stroke-width="1.03" />
<path d="M286.2 208.1 l-0.8 -1.3 M293.3 203.9 l-1.6 -0.5" fill="none" stroke="#141414" stroke-width="1.03" />
<path d="M257.7 222.2 v3 A17.6 8.9 0 0 0 292.90000000000003 225.2 v-3" fill="#fff" stroke="#141414" stroke-width="1.03" />
<ellipse cx="275.3" cy="222.2" rx="17.6" ry="8.9" fill="#fff" stroke="#141414" stroke-width="1.14" />
<ellipse cx="275.3" cy="222.2" rx="10.3" ry="4.6" fill="none" stroke="#141414" stroke-width="1.03" />
<path d="M265.90000000000003 224 A9.6 4.2 0 0 0 284.7 224" fill="none" stroke="#141414" stroke-width="0.80" />
<path d="M264.0 243.6 A11.1 5.9 0 1 1 273.6 249.4 M265.4 243.3 A9.7 4.8 0 1 1 274.3 248.4" fill="none" stroke="#141414" stroke-width="1.03" />
<path d="M264.2 243.5 l1.5 0.2 M273.2 249.4 l0.3 -1.1" fill="none" stroke="#141414" stroke-width="1.03" />
<path d="M264.6 243.8 L267.9 247.3" fill="none" stroke="#141414" stroke-width="1.82" />
<path d="M265.0 256 V282.6 A10.3 4.9 0 0 0 285.6 282.6 V256" fill="#fff" stroke="#141414" stroke-width="1.03" />
<ellipse cx="275.3" cy="256" rx="10.3" ry="4.9" fill="#fff" stroke="#141414" stroke-width="1.03" />
<ellipse cx="275.3" cy="256.2" rx="8.6" ry="3.9" fill="none" stroke="#141414" stroke-width="0.68" />
<ellipse cx="275.3" cy="256.4" rx="7.0" ry="3.1" fill="none" stroke="#141414" stroke-width="0.91" />
<path d="M265.0 260.2 A10.3 4.9 0 0 0 285.6 260.2" fill="none" stroke="#141414" stroke-width="1.48" />
<path d="M261.8 296.7 V312.4 A13.5 6.6 0 0 0 288.8 312.4 V296.7" fill="#fff" stroke="#141414" stroke-width="1.03" />
<path d="M261.8 298.6 A13.5 6.8 0 0 0 288.8 298.6 M261.8 299.9 A13.5 6.8 0 0 0 288.8 299.9" fill="none" stroke="#141414" stroke-width="0.80" />
<ellipse cx="275.3" cy="296.7" rx="13.5" ry="6.8" fill="#fff" stroke="#141414" stroke-width="1.14" />
<ellipse cx="275.3" cy="296.9" rx="11.6" ry="5.6" fill="none" stroke="#141414" stroke-width="0.68" />
<ellipse cx="275.3" cy="297.0" rx="10.1" ry="4.5" fill="none" stroke="#141414" stroke-width="0.91" />
<path d="M269.5 338.8 V348.6 A5.8 2.4 0 0 0 281.1 348.6 V338.8z" fill="#fff" stroke="#141414" stroke-width="1.03" />
<path d="M264.8 335 v1.6 q0 1.6 4.7 3 A6 2.2 0 0 0 281.1 339.6 q4.7 -1.4 4.7 -3 v-1.6" fill="#fff" stroke="#141414" stroke-width="1.03" />
<path d="M264.8 336.4 A10.5 3.7 0 0 0 285.8 336.4" fill="none" stroke="#141414" stroke-width="0.91" />
<ellipse cx="275.3" cy="335" rx="10.5" ry="3.7" fill="#fff" stroke="#141414" stroke-width="1.25" />
<path d="M268.3 327.2 V333.4 A7 2.8 0 0 0 282.3 333.4 V327.2" fill="#fff" stroke="#141414" stroke-width="1.03" />
<ellipse cx="275.3" cy="327.2" rx="7" ry="2.8" fill="#fff" stroke="#141414" stroke-width="1.14" />
<ellipse cx="275.3" cy="327.3" rx="5.0" ry="1.9" fill="#666" stroke="#141414" stroke-width="1.14" />
<ellipse cx="275.3" cy="327.4" rx="2.6" ry="0.9" fill="#fff" stroke="#141414" stroke-width="0.68" />
<path d="M289.5 296.6 L318 282.4" fill="none" stroke="#222" stroke-width="0.80" stroke-dasharray="9 2 2 2"/>
<path d="M327 278.2 L356.6 263.4" fill="none" stroke="#222" stroke-width="0.80" stroke-dasharray="11 2 2 2"/>
<path d="M371.6 255.8 L387.6 247.8" fill="none" stroke="#222" stroke-width="0.80" stroke-dasharray="9 2 2 2"/>
<path d="M318.6 278.4 L322.4 275.6 L328.4 271 L330.6 272.4 L326 276.4 L322 279.6z" fill="#fff" stroke="#141414" stroke-width="1.03" />
<path d="M322.6 274 l3.4 -2.6 l1.4 2.2 l-3.4 2.6z" fill="#888" stroke="#141414" stroke-width="1.03" />
<path d="M323.6 288 L331.6 285.6 L337.6 281 L342 277.6 L343.4 279.4 L338.4 283.4 L333.4 287.8 L325.6 290.4z" fill="#fff" stroke="#141414" stroke-width="1.03" />
<path d="M335 280.6 l3.6 -2.8 l1.6 2.2 l-3.6 2.8z" fill="#888" stroke="#141414" stroke-width="1.03" />
<path d="M340.6 277.6 l1.4 2.2" fill="none" stroke="#141414" stroke-width="1.14" />
<path d="M298.4 284.4 Q297.6 282.6 300 281.6 Q308 278.6 314 278.4 Q320 278.4 322.8 282.6 Q325.2 287 323.2 291.6 Q321.6 294.6 319 295.6 L317.2 295 Q316.4 293.6 318 292 Q320.4 289 319 286 Q316.6 282.4 311 282.6 Q305 283 300.6 285.2 Q298.8 285.6 298.4 284.4z" fill="#fff" stroke="#141414" stroke-width="1.14" />
<path d="M299.6 283.2 Q307.6 280.2 314 280 Q319.4 280.4 321.4 284 Q323 288 320.8 292.2" fill="none" stroke="#141414" stroke-width="0.80" />
<path d="M317.4 279 L320 276.8 M322.8 282.6 L324.6 281" fill="none" stroke="#141414" stroke-width="0.91" />
<path d="M347.3 252 L349.6 248.6 L355.6 247 L371.1 255.6 L371.3 261 L368.6 263.4 L371 264.6 L371.1 267 L367.6 269.4 L361.4 268.6 L361 263.4 L356.6 261.4 L353.6 263 L348 261z" fill="#fff" stroke="#141414" stroke-width="1.14" />
<path d="M349.6 248.6 L354.6 251.2 L355.6 247 M354.6 251.2 L354 262.6 M354.6 251.2 L348 252.6 M356.6 261.4 L357 253 L362 255.6 L367.6 258.6 L371.1 255.6 M367.6 258.6 L367.6 269.4 M362 255.6 L361 263.4 M348 256.6 l6 -1 M348 258.6 l6 -1" fill="none" stroke="#141414" stroke-width="1.03" />
<path d="M363 259.6 l3.6 2 v3.4 l-3.6 -1.6z" fill="#555" stroke="#141414" stroke-width="1.03" />
<path d="M387.6 243.4 L390.6 241 L400.4 245.2 L400.4 250.6 L397.6 253 L387.6 248.6z" fill="#fff" stroke="#141414" stroke-width="1.03" />
<path d="M387.6 243.4 L397.6 247.6 L400.4 245.2 M397.6 247.6 V253" fill="none" stroke="#141414" stroke-width="0.91" />
<ellipse cx="389.8" cy="246.6" rx="1.0" ry="1.3" fill="none" stroke="#141414" stroke-width="0.68" />
<path d="M234.70000000000002 395.6 v3.2 A40.6 19.8 0 0 0 315.90000000000003 398.8 v-3.2" fill="#fff" stroke="#141414" stroke-width="1.03" />
<ellipse cx="275.3" cy="395.6" rx="40.6" ry="19.8" fill="#fff" stroke="#141414" stroke-width="1.14" />
<ellipse cx="275.3" cy="395.9" rx="37.6" ry="17.9" fill="none" stroke="#141414" stroke-width="0.80" />
<path d="M241.3 398.6 A34 15.4 0 0 0 309.3 398.6" fill="none" stroke="#141414" stroke-width="0.91" />
<path d="M243.3 399 A32 14.2 0 0 0 307.3 399" fill="none" stroke="#141414" stroke-width="0.80" />
<path d="M240.4 395.8 L242 390 L246 384.6 L252 380 L262 377.4 L290 377.4 L299 380 L305.6 384.6 L310.6 391.5 L309 397.6 L303 402 L298.6 405.6 L290 407.4 L281 409.6 L268 409.8 L258 408.6 L249 403.6 L243.4 400z" fill="#fff" stroke="#141414" stroke-width="1.25" />
<path d="M243.6 396.6 L248 401.4 L258 406 L268 407.4 L281 407.2 L290 405 L298 403 L306 397" fill="none" stroke="#141414" stroke-width="0.80" />
<path d="M247.4 377.6 V389.6 A2.4 1.2 0 0 0 252.20000000000002 389.6 V377.6z" fill="#fff" stroke="#141414" stroke-width="1.03" />
<path d="M246.20000000000002 388.0 A3.5999999999999996 1.8 0 0 0 253.4 388.0" fill="none" stroke="#141414" stroke-width="1.03" />
<path d="M247.4 379.6 A2.4 1.2 0 0 0 252.20000000000002 379.6" fill="none" stroke="#141414" stroke-width="0.80" />
<ellipse cx="249.8" cy="377.6" rx="2.4" ry="1.2" fill="#fff" stroke="#141414" stroke-width="1.14" />
<ellipse cx="249.8" cy="377.6" rx="1.32" ry="0.672" fill="#555" stroke="#141414" stroke-width="1.03" />
<path d="M256.3 382.6 V391.0 A2.4 1.2 0 0 0 261.09999999999997 391.0 V382.6z" fill="#fff" stroke="#141414" stroke-width="1.03" />
<path d="M255.10000000000002 389.4 A3.5999999999999996 1.8 0 0 0 262.29999999999995 389.4" fill="none" stroke="#141414" stroke-width="1.03" />
<path d="M256.3 384.6 A2.4 1.2 0 0 0 261.09999999999997 384.6" fill="none" stroke="#141414" stroke-width="0.80" />
<ellipse cx="258.7" cy="382.6" rx="2.4" ry="1.2" fill="#fff" stroke="#141414" stroke-width="1.14" />
<ellipse cx="258.7" cy="382.6" rx="1.32" ry="0.672" fill="#555" stroke="#141414" stroke-width="1.03" />
<path d="M264.0 380.4 V388.4 A2.4 1.2 0 0 0 268.79999999999995 388.4 V380.4z" fill="#fff" stroke="#141414" stroke-width="1.03" />
<path d="M262.8 386.79999999999995 A3.5999999999999996 1.8 0 0 0 269.99999999999994 386.79999999999995" fill="none" stroke="#141414" stroke-width="1.03" />
<path d="M264.0 382.4 A2.4 1.2 0 0 0 268.79999999999995 382.4" fill="none" stroke="#141414" stroke-width="0.80" />
<ellipse cx="266.4" cy="380.4" rx="2.4" ry="1.2" fill="#fff" stroke="#141414" stroke-width="1.14" />
<ellipse cx="266.4" cy="380.4" rx="1.32" ry="0.672" fill="#555" stroke="#141414" stroke-width="1.03" />
<path d="M288.20000000000005 380.6 V388.6 A2.4 1.2 0 0 0 293.0 388.6 V380.6z" fill="#fff" stroke="#141414" stroke-width="1.03" />
<path d="M287.00000000000006 387.0 A3.5999999999999996 1.8 0 0 0 294.2 387.0" fill="none" stroke="#141414" stroke-width="1.03" />
<path d="M288.20000000000005 382.6 A2.4 1.2 0 0 0 293.0 382.6" fill="none" stroke="#141414" stroke-width="0.80" />
<ellipse cx="290.6" cy="380.6" rx="2.4" ry="1.2" fill="#fff" stroke="#141414" stroke-width="1.14" />
<ellipse cx="290.6" cy="380.6" rx="1.32" ry="0.672" fill="#555" stroke="#141414" stroke-width="1.03" />
<path d="M302.1 382 V390.6 A2.4 1.2 0 0 0 306.9 390.6 V382z" fill="#fff" stroke="#141414" stroke-width="1.03" />
<path d="M300.90000000000003 389.0 A3.5999999999999996 1.8 0 0 0 308.09999999999997 389.0" fill="none" stroke="#141414" stroke-width="1.03" />
<path d="M302.1 384 A2.4 1.2 0 0 0 306.9 384" fill="none" stroke="#141414" stroke-width="0.80" />
<ellipse cx="304.5" cy="382" rx="2.4" ry="1.2" fill="#fff" stroke="#141414" stroke-width="1.14" />
<ellipse cx="304.5" cy="382" rx="1.32" ry="0.672" fill="#555" stroke="#141414" stroke-width="1.03" />
<path d="M295.0 379.6 V387.6 A2.4 1.2 0 0 0 299.79999999999995 387.6 V379.6z" fill="#fff" stroke="#141414" stroke-width="1.03" />
<path d="M293.8 386.0 A3.5999999999999996 1.8 0 0 0 300.99999999999994 386.0" fill="none" stroke="#141414" stroke-width="1.03" />
<path d="M295.0 381.6 A2.4 1.2 0 0 0 299.79999999999995 381.6" fill="none" stroke="#141414" stroke-width="0.80" />
<ellipse cx="297.4" cy="379.6" rx="2.4" ry="1.2" fill="#fff" stroke="#141414" stroke-width="1.14" />
<ellipse cx="297.4" cy="379.6" rx="1.32" ry="0.672" fill="#555" stroke="#141414" stroke-width="1.03" />
<path d="M270.6 390 L272.6 386 L286.6 386 L288.8 390 L288.8 402.6 L284 405.6 L274.6 405.6 L270.6 402.6z" fill="#fff" stroke="#141414" stroke-width="1.03" />
<path d="M272.6 386 V398 M286.6 386 V392 M275.4 390 V405 M270.6 394 h-3 v8" fill="none" stroke="#141414" stroke-width="0.91" />
<path d="M270.9 385.4 V390.0 A2.5 1.2 0 0 0 275.9 390.0 V385.4z" fill="#fff" stroke="#141414" stroke-width="1.03" />
<path d="M269.7 388.4 A3.7 1.9 0 0 0 277.09999999999997 388.4" fill="none" stroke="#141414" stroke-width="1.03" />
<path d="M270.9 387.4 A2.5 1.2 0 0 0 275.9 387.4" fill="none" stroke="#141414" stroke-width="0.80" />
<ellipse cx="273.4" cy="385.4" rx="2.5" ry="1.25" fill="#fff" stroke="#141414" stroke-width="1.14" />
<ellipse cx="273.4" cy="385.4" rx="1.375" ry="0.7000000000000001" fill="#555" stroke="#141414" stroke-width="1.03" />
<path d="M285.9 384.6 V389.20000000000005 A2.5 1.2 0 0 0 290.9 389.20000000000005 V384.6z" fill="#fff" stroke="#141414" stroke-width="1.03" />
<path d="M284.7 387.6 A3.7 1.9 0 0 0 292.09999999999997 387.6" fill="none" stroke="#141414" stroke-width="1.03" />
<path d="M285.9 386.6 A2.5 1.2 0 0 0 290.9 386.6" fill="none" stroke="#141414" stroke-width="0.80" />
<ellipse cx="288.4" cy="384.6" rx="2.5" ry="1.25" fill="#fff" stroke="#141414" stroke-width="1.14" />
<ellipse cx="288.4" cy="384.6" rx="1.375" ry="0.7000000000000001" fill="#555" stroke="#141414" stroke-width="1.03" />
<ellipse cx="281.3" cy="397" rx="4.3" ry="4.0" fill="#fff" stroke="#141414" stroke-width="1.14" />
<ellipse cx="281.5" cy="397.2" rx="3.1" ry="2.8" fill="#999" stroke="#141414" stroke-width="1.48" />
<path d="M245.6 390.6 V396.0 A3.9 1.9 0 0 0 253.4 396.0 V390.6z" fill="#fff" stroke="#141414" stroke-width="1.03" />
<path d="M244.4 394.4 A5.1 2.5 0 0 0 254.6 394.4" fill="none" stroke="#141414" stroke-width="1.03" />
<path d="M245.6 392.6 A3.9 1.9 0 0 0 253.4 392.6" fill="none" stroke="#141414" stroke-width="0.80" />
<ellipse cx="249.5" cy="390.6" rx="3.9" ry="1.95" fill="#fff" stroke="#141414" stroke-width="1.14" />
<ellipse cx="249.5" cy="390.6" rx="2.145" ry="1.092" fill="#555" stroke="#141414" stroke-width="1.03" />
<path d="M259.1 398.4 V404.0 A3.9 1.9 0 0 0 266.9 404.0 V398.4z" fill="#fff" stroke="#141414" stroke-width="1.03" />
<path d="M257.90000000000003 402.4 A5.1 2.5 0 0 0 268.09999999999997 402.4" fill="none" stroke="#141414" stroke-width="1.03" />
<path d="M259.1 400.4 A3.9 1.9 0 0 0 266.9 400.4" fill="none" stroke="#141414" stroke-width="0.80" />
<ellipse cx="263" cy="398.4" rx="3.9" ry="1.95" fill="#fff" stroke="#141414" stroke-width="1.14" />
<ellipse cx="263" cy="398.4" rx="2.145" ry="1.092" fill="#555" stroke="#141414" stroke-width="1.03" />
<path d="M295.1 393 V398.4 A3.9 1.9 0 0 0 302.9 398.4 V393z" fill="#fff" stroke="#141414" stroke-width="1.03" />
<path d="M293.90000000000003 396.79999999999995 A5.1 2.5 0 0 0 304.09999999999997 396.79999999999995" fill="none" stroke="#141414" stroke-width="1.03" />
<path d="M295.1 395 A3.9 1.9 0 0 0 302.9 395" fill="none" stroke="#141414" stroke-width="0.80" />
<ellipse cx="299" cy="393" rx="3.9" ry="1.95" fill="#fff" stroke="#141414" stroke-width="1.14" />
<ellipse cx="299" cy="393" rx="2.145" ry="1.092" fill="#555" stroke="#141414" stroke-width="1.03" />
<path d="M254 404.6 l4 -2.6 l5 2 M288 407 l4 -3 l6 0.6" fill="none" stroke="#141414" stroke-width="0.80" />
<path d="M250.0 366.5 v6.4 A25.3 12.8 0 0 0 300.6 372.9 v-6.4" fill="#fff" stroke="#141414" stroke-width="1.03" />
<path d="M250.0 371.2 A25.3 12.8 0 0 0 300.6 371.2" fill="none" stroke="#141414" stroke-width="0.80" />
<ellipse cx="275.3" cy="366.5" rx="25.3" ry="12.8" fill="#fff" stroke="#141414" stroke-width="1.14" />
<ellipse cx="275.3" cy="366.5" rx="18.6" ry="9.2" fill="none" stroke="#141414" stroke-width="1.14" />
<ellipse cx="275.3" cy="366.7" rx="17.2" ry="8.2" fill="none" stroke="#141414" stroke-width="0.80" />
<ellipse cx="275.3" cy="367.3" rx="15.3" ry="7.0" fill="none" stroke="#141414" stroke-width="1.37" />
<path d="M261.7 369.8 A13.8 5.8 0 0 0 288.90000000000003 369.8 M263.3 371.2 A12 4.8 0 0 0 287.3 371.2 M265.7 368.4 A9.6 3.2 0 0 1 284.90000000000003 368.4" fill="none" stroke="#141414" stroke-width="0.91" />
<path d="M268.3 371.6 h14" fill="none" stroke="#444" stroke-width="1.82" />
<ellipse cx="275.3" cy="432.8" rx="17.5" ry="8.7" fill="none" stroke="#141414" stroke-width="0.91" />
<ellipse cx="275.3" cy="432.8" rx="16.0" ry="7.5" fill="none" stroke="#141414" stroke-width="0.80" />
<path d="M303 451 L305.4 447.2 Q308 444.4 311.4 444 L320.5 444 Q324.6 444.6 328.1 449 L335.1 458 L337.9 462.9 Q340.6 463.4 340.7 466 L340.7 479.7 Q340 483 335.8 483.2 L330.2 481.8 L328.8 487 L320.5 491 L300 470z" fill="#fff" stroke="#141414" stroke-width="1.03" />
<path d="M306.6 449.4 Q309.4 446.6 312.4 446.4 L319.6 446.4 Q323 447 326 450.6 L332.6 459.4" fill="none" stroke="#141414" stroke-width="0.80" />
<path d="M307.2 451.6 l8.2 -2.6 l2.3 3.6 l-8.3 2.6z" fill="none" stroke="#141414" stroke-width="0.91" />
<path d="M322.6 457.3 L332.3 463.6 L324.7 464.3z M324 459.4 L329.6 463 L325.4 463.4z" fill="none" stroke="#141414" stroke-width="0.91" />
<path d="M318.4 460.6 L323.6 466 L322 467.6 L316.6 462.6" fill="none" stroke="#141414" stroke-width="0.80" />
<path d="M328.8 465 Q329 462.8 333.7 462.6 Q340 462.8 340.7 466 Q340.4 468.2 334.6 468.5 Q329.2 468.3 328.8 465z" fill="#fff" stroke="#141414" stroke-width="1.03" />
<ellipse cx="333.9" cy="465.2" rx="2.3" ry="1.3" fill="none" stroke="#141414" stroke-width="1.03" />
<path d="M328.8 465.6 V482 M334.6 468.5 V481 M320.5 475.5 V491 M324.6 474.6 V489 M328.8 470 L322 474" fill="none" stroke="#141414" stroke-width="0.91" />
<path d="M319.6 471 Q320 469.6 324 469.6 Q328 470 328 472 Q327.6 473.8 324 473.8 Q320 473.6 319.6 471z" fill="#fff" stroke="#141414" stroke-width="0.91" />
<ellipse cx="324" cy="471.8" rx="1.9" ry="1.1" fill="none" stroke="#141414" stroke-width="0.91" />
<path d="M330.2 481.8 Q330.6 478.6 335 478.4 Q340 478.6 340.7 479.7" fill="none" stroke="#141414" stroke-width="0.80" />
<path d="M226.2 478.4 Q226 475 230 474.7 L229 474.9 Q230.4 467 236 459.6 L240.6 454.4 L240.8 450.5 Q242 448.6 245.4 448.8 L249.9 451.2 Q256 449 263.9 447.7 Q274 446 283.4 445.6 Q284.6 443.8 288.4 444 Q292.6 444.6 292.8 447.2 Q300 449 305.7 451.9 Q316 458.6 318.2 467 Q319 474 316 481 L318 484.6 Q317.4 489.4 312 488.4 L297.3 490.9 L282 493.7 L281.6 497.6 Q279 499.8 275 499.8 Q270.6 499.6 268.7 497 L268.7 493.7 L262 494.6 Q257.6 494.6 255.5 493 L237.3 481.9 Q232 482.6 229 482 Q226.4 481 226.2 478.4z" fill="#fff" stroke="#141414" stroke-width="1.14" />
<path d="M226.2 478.4 V486.4 L227.7 487.2 L237.9 492 L245 496.4 L253.5 501.5 L257.6 504.2 L263.7 505.2 L269.1 505.6 L269.1 512.4 A6.1 2.6 0 0 0 281.3 512.4 L281.3 504.4 L287.4 502.2 L292.6 501.2 L298.3 500.1 L304.4 498.8 L311.8 497.4 L316.4 492 L318 484.6" fill="#fff" stroke="#141414" stroke-width="1.03" />
<path d="M237.9 483.8 V492 M245 488 V496.4 M253.5 492 V501.5 M256.9 494 V503.8 M263.7 494.4 V505.2 M269.1 496 V505.6 M281.3 496.4 V504.4 M288.1 492 V502 M292.6 491.4 V501.2 M298.3 490 V500.1 M304.4 488.6 V498.8 M311.8 486.8 V497.4" fill="none" stroke="#141414" stroke-width="0.91" />
<path d="M250.8 500.2 Q254 505 259 506.4 L264 507.2 Q267.6 508 269.1 510.4 M281.3 509.8 Q282.4 507 284.8 505.6 L287.4 504.6" fill="none" stroke="#141414" stroke-width="0.80" />
<path d="M229 482 Q228 484.6 229.4 487.8" fill="none" stroke="#141414" stroke-width="0.68" />
<ellipse cx="275.5" cy="470.5" rx="41.6" ry="21.4" fill="#fff" stroke="#141414" stroke-width="1.31" />
<ellipse cx="275.6" cy="470.8" rx="39.4" ry="19.8" fill="none" stroke="#141414" stroke-width="0.80" />
<path d="M237.3 474.5 Q246 464.6 264 461 Q282 458 298 462" fill="none" stroke="#141414" stroke-width="0.91" />
<path d="M239 477.6 Q247 467 265 463.4 Q280 461 292 463.6" fill="none" stroke="#141414" stroke-width="0.80" />
<path d="M238 478 A38 16 0 0 0 313 478" fill="none" stroke="#141414" stroke-width="0.80" />
<path d="M229.6 482.2 L237.9 483.8 L253.5 492 Q255.4 494 259 494.2 L269.1 493.4 M281.3 493.4 L288 492 L297.6 489.9 L311.8 486.6" fill="none" stroke="#141414" stroke-width="1.03" />
<ellipse cx="231.8" cy="477.4" rx="2.1" ry="1.218" fill="none" stroke="#141414" stroke-width="0.91" />
<ellipse cx="246.4" cy="452.6" rx="2.1" ry="1.218" fill="none" stroke="#141414" stroke-width="0.91" />
<ellipse cx="288.7" cy="446.7" rx="2.1" ry="1.218" fill="none" stroke="#141414" stroke-width="0.91" />
<ellipse cx="314.2" cy="486.2" rx="1.9" ry="1.1019999999999999" fill="none" stroke="#141414" stroke-width="0.91" />
<ellipse cx="261.8" cy="493.2" rx="1.7" ry="0.9859999999999999" fill="none" stroke="#141414" stroke-width="0.91" />
<ellipse cx="305.7" cy="488.4" rx="1.7" ry="0.9859999999999999" fill="none" stroke="#141414" stroke-width="0.91" />
<ellipse cx="236.4" cy="462.6" rx="1.3" ry="0.754" fill="none" stroke="#141414" stroke-width="0.91" />
<ellipse cx="312.4" cy="458.4" rx="1.3" ry="0.754" fill="none" stroke="#141414" stroke-width="0.91" />
<path d="M289.6 467 L299.4 459.4 Q304 457.2 308.4 460.4 Q312.6 465 311.2 472.6 L300 482.6" fill="#fff" stroke="#141414" stroke-width="1.03" />
<path d="M299.4 459.4 Q295.4 463 296.6 469 Q298.4 474.6 303.4 476.4 M302 458.6 Q298.6 462.6 299.8 468 Q301.6 473.4 306 475 M305 458.8 Q302 462.6 303 467.4 Q304.6 472 308.6 473.6 M307.6 460 Q305.4 463 306.2 466.6 Q307.4 470.4 310.6 471.6" fill="none" stroke="#141414" stroke-width="0.80" />
<path d="M290 476.6 L302.6 472.6 M292 480 L305 476 M294.4 483.4 L307.6 479.6 M296.4 486.4 L310 482.6 M288 472 L297 469" fill="none" stroke="#141414" stroke-width="0.91" />
<path d="M247 473.8 L258 479.2 Q259.6 478.6 259 477.2 L248.4 472.2 Q246.6 472.4 247 473.8z M263.6 467.4 L267.6 474 Q269 474.2 269.6 473 L266 466.4 Q264.4 465.8 263.6 467.4z M291 464.4 L282 471.4 Q282.4 472.8 284 472.6 L292.6 465.6 Q292.4 464 291 464.4z" fill="#fff" stroke="#141414" stroke-width="1.14" />
<path d="M248 473.2 L258.4 478.4 M264.8 467 L268.6 473.6 M291.8 465 L283 472" fill="none" stroke="#141414" stroke-width="0.91" />
<ellipse cx="275.7" cy="482.5" rx="19.5" ry="9.8" fill="#fff" stroke="#141414" stroke-width="1.65" />
<ellipse cx="275.9" cy="482.7" rx="17.6" ry="8.5" fill="none" stroke="#141414" stroke-width="0.80" />
<ellipse cx="276.4" cy="483.2" rx="16.0" ry="7.2" fill="none" stroke="#141414" stroke-width="1.03" />
<ellipse cx="277.2" cy="484.4" rx="12.6" ry="5.4" fill="none" stroke="#141414" stroke-width="1.03" />
<path d="M266.4 486 A11.4 4.4 0 0 0 288.6 486 M269 487.8 A9 3.2 0 0 0 286 487.8" fill="none" stroke="#141414" stroke-width="0.91" />
<path d="M287.4 478.6 l2.6 -1.4 l2 2 l-1.8 2.6z" fill="#777" stroke="#141414" stroke-width="0.91" />
<path d="M272.6 489.6 v-3.4 M274.4 490 v-3" fill="none" stroke="#141414" stroke-width="0.91" />
<ellipse cx="274.6" cy="495.2" rx="2.8" ry="1.6" fill="none" stroke="#141414" stroke-width="1.03" />
<path d="M262.59999999999997 539.0 v3.8 A12.8 6.4 0 0 0 288.2 542.8 v-3.8" fill="#fff" stroke="#141414" stroke-width="0.91" />
<path d="M262.59999999999997 541.2 A12.8 6.4 0 0 0 288.2 541.2" fill="none" stroke="#141414" stroke-width="0.68" />
<ellipse cx="275.4" cy="539.0" rx="12.8" ry="6.4" fill="#fff" stroke="#141414" stroke-width="1.14" />
<ellipse cx="275.4" cy="539.4" rx="11.0" ry="5.2" fill="none" stroke="#141414" stroke-width="0.68" />
<ellipse cx="275.4" cy="540.6" rx="8.2" ry="3.9" fill="none" stroke="#141414" stroke-width="1.37" />
<ellipse cx="275.4" cy="541.2" rx="6.6" ry="2.9" fill="none" stroke="#141414" stroke-width="0.68" />
<path d="M207.6 486 V493.6 A3.8 1.7 0 0 0 215.2 493.6 V486z" fill="#fff" stroke="#141414" stroke-width="0.91" />
<ellipse cx="211.4" cy="486" rx="3.8" ry="1.7" fill="#fff" stroke="#141414" stroke-width="1.03" />
<path d="M211.4 496.4 L211.4 510.4 L254.2 496.6" fill="none" stroke="#222" stroke-width="0.80" stroke-dasharray="8 1.8 1.8 1.8"/>
<ellipse cx="214" cy="527.4" rx="5.6" ry="3.6" fill="#fff" stroke="#141414" stroke-width="1.14"  transform="rotate(20 214 527.4)"/>
<ellipse cx="214" cy="527.4" rx="3.9" ry="2.2" fill="none" stroke="#141414" stroke-width="0.91"  transform="rotate(20 214 527.4)"/>
<path d="M218.6 523.6 L222 520.4 L252 503.4" fill="none" stroke="#222" stroke-width="0.80" stroke-dasharray="8 1.8 1.8 1.8"/>
<g transform="rotate(20 207.5 539.2)">
<path d="M201.2 538.4 v2.8 A6.3 3.8 0 0 0 213.8 541.2 v-2.8" fill="#fff" stroke="#141414" stroke-width="1.14" />
<ellipse cx="207.5" cy="538.4" rx="6.3" ry="3.8" fill="#fff" stroke="#141414" stroke-width="1.71" />
<ellipse cx="207.5" cy="538.0" rx="4.5" ry="2.6" fill="none" stroke="#141414" stroke-width="1.03" />
<path d="M204.9 536.4 v1.4 a2.8 1.6 0 0 0 5.6 0 v-1.4" fill="#fff" stroke="#141414" stroke-width="1.03" />
<ellipse cx="207.7" cy="536.2" rx="2.8" ry="1.6" fill="#fff" stroke="#141414" stroke-width="1.14" />
<ellipse cx="207.7" cy="536.1" rx="1.3" ry="0.75" fill="#444" stroke="#141414" stroke-width="0.91" />
</g>
<ellipse cx="248.8" cy="527.1" rx="4.4" ry="2.3" fill="#fff" stroke="#141414" stroke-width="1.14" />
<ellipse cx="248.8" cy="527.0" rx="2.2" ry="1.1" fill="none" stroke="#141414" stroke-width="1.03" />
<path d="M248.8 524.4 L248.8 520.6 L260.7 516.2 L260.7 508.6" fill="none" stroke="#222" stroke-width="0.80" stroke-dasharray="6 1.6 1.6 1.6"/>
<line x1="248.8" y1="529.4" x2="248.8" y2="533.4" stroke="#141414" stroke-width="0.68" />
<path d="M247.4 533 v4 h2.8 v-4z" fill="#fff" stroke="#141414" stroke-width="0.80" />
<path d="M244.8 538.6 a4 1.8 0 0 0 8 0 a4 1.8 0 0 0 -8 0z" fill="#fff" stroke="#141414" stroke-width="1.03" />
<path d="M245.8 539.4 v2.6 l1.8 1.6 h2.6 l1.8 -1.6 v-2.6 M247.6 540.4 v3.2 M250.2 540.4 v3.2" fill="none" stroke="#141414" stroke-width="0.91" />
<ellipse cx="339.9" cy="499.9" rx="2.6" ry="3.4" fill="#fff" stroke="#141414" stroke-width="1.37"  transform="rotate(25 339.9 499.9)"/>
<ellipse cx="339.9" cy="499.9" rx="1.2" ry="1.7" fill="none" stroke="#141414" stroke-width="0.91"  transform="rotate(25 339.9 499.9)"/>
<path d="M318 489.6 L336.6 498.4" fill="none" stroke="#222" stroke-width="0.80" stroke-dasharray="7 1.8 1.8 1.8"/>
<path d="M343 501.6 L352 505.6" fill="none" stroke="#222" stroke-width="0.80" stroke-dasharray="5 1.8 1.8 1.8"/>
<g transform="translate(2.4 1.2) rotate(25 358 507)">
<path d="M350.6 505.6 h5 v2.8 h-5z" fill="#fff" stroke="#141414" stroke-width="0.91" />
<ellipse cx="356.2" cy="507" rx="1.8" ry="3.8" fill="#fff" stroke="#141414" stroke-width="1.14" />
<path d="M357 504 h3.2 l1.4 1.4 v3.2 l-1.4 1.4 h-3.2z M357 506 h4.6 M357 508 h4.6" fill="#ccc" stroke="#141414" stroke-width="1.03" />
</g>
<path d="M336.4 456.6 L343 453.2" fill="none" stroke="#222" stroke-width="0.80" stroke-dasharray="5 2"/>
<g transform="translate(344.4 452.4) scale(1.1547 1) rotate(-30)">
<path d="M0 -5.30 H4.6 A3.06 5.30 0 0 1 4.6 5.30 H0z" fill="#fff" stroke="#141414" stroke-width="0.91" vector-effect="non-scaling-stroke" />
<ellipse cx="0" cy="0" rx="3.06" ry="5.30" fill="#fff" stroke="#141414" stroke-width="1.03" vector-effect="non-scaling-stroke"/>
<ellipse cx="0.2" cy="0" rx="2.42" ry="4.20" fill="none" stroke="#141414" stroke-width="0.80" vector-effect="non-scaling-stroke"/>
<path d="M0.54 -3.78 A2.42 4.20 0 0 0 0.54 3.78" fill="none" stroke="#141414" stroke-width="0.68" vector-effect="non-scaling-stroke" />
</g>
<g transform="translate(358.0 444.3) scale(1.1547 1) rotate(-30)">
<path d="M28 -8.50 H37 A4.91 8.50 0 0 1 37 8.50 H28z" fill="#fff" stroke="#141414" stroke-width="0.91" vector-effect="non-scaling-stroke" />
<path d="M33.6 -1 v0.6" fill="none" stroke="#141414" stroke-width="0.91" vector-effect="non-scaling-stroke" />
<path d="M25.40 -7.60 A4.39 7.60 0 0 1 25.40 7.60" fill="none" stroke="#141414" stroke-width="1.25" vector-effect="non-scaling-stroke" />
<path d="M27.00 -7.60 A4.39 7.60 0 0 1 27.00 7.60" fill="none" stroke="#141414" stroke-width="1.25" vector-effect="non-scaling-stroke" />
<path d="M28.60 -7.60 A4.39 7.60 0 0 1 28.60 7.60" fill="none" stroke="#141414" stroke-width="1.25" vector-effect="non-scaling-stroke" />
<path d="M9 -13.0 H17.6 Q23 -12.6 26 -7.6 A4.4 7.6 0 0 1 26 7.6 Q23 12.6 17.6 13.0 H9 Q1.6 10.7 1.2 0 Q1.6 -10.7 9 -13.0z" fill="#fff" stroke="#141414" stroke-width="1.03" vector-effect="non-scaling-stroke" />
<path d="M9.00 -13.00 A7.51 13.00 0 0 1 9.00 13.00" fill="none" stroke="#141414" stroke-width="0.68" vector-effect="non-scaling-stroke" />
<path d="M10.60 -13.00 A7.51 13.00 0 0 1 10.60 13.00" fill="none" stroke="#141414" stroke-width="0.68" vector-effect="non-scaling-stroke" />
<path d="M17.60 -13.00 A7.51 13.00 0 0 1 17.60 13.00" fill="none" stroke="#141414" stroke-width="0.80" vector-effect="non-scaling-stroke" />
<path d="M14 11.4 v1.2" fill="none" stroke="#141414" stroke-width="1.14" vector-effect="non-scaling-stroke" />
<path d="M2.6 -4.70 H8.6 A2.71 4.70 0 0 1 8.6 4.70 H2.6z" fill="#fff" stroke="#141414" stroke-width="0.91" vector-effect="non-scaling-stroke" />
<path d="M7.40 -4.70 A2.71 4.70 0 0 1 7.40 4.70" fill="none" stroke="#141414" stroke-width="0.68" vector-effect="non-scaling-stroke" />
<ellipse cx="2.6" cy="0" rx="2.71" ry="4.70" fill="#fff" stroke="#141414" stroke-width="1.03" vector-effect="non-scaling-stroke"/>
<path d="M-0.6 -2.2 H2.6 M-0.6 2.2 H2.6" fill="none" stroke="#141414" stroke-width="0.80" vector-effect="non-scaling-stroke" />
<ellipse cx="-0.6" cy="0" rx="1.27" ry="2.20" fill="#fff" stroke="#141414" stroke-width="0.91" vector-effect="non-scaling-stroke"/>
<ellipse cx="-0.6" cy="0" rx="0.58" ry="1.00" fill="#555" stroke="#141414" stroke-width="0.68" vector-effect="non-scaling-stroke"/>
</g>
<g transform="translate(410.6 417.4) scale(1.1547 1) rotate(-30)">
<path d="M0 -10.9 h1.2 A6.29 10.9 0 0 1 1.2 10.9 h-1.2" fill="#fff" stroke="#141414" stroke-width="0.91" vector-effect="non-scaling-stroke" />
<path fill-rule="evenodd" d="M-6.29 0 a6.29 10.90 0 1 0 12.59 0 a6.29 10.90 0 1 0 -12.59 0z M-5.48 0 a5.48 9.50 0 1 0 10.97 0 a5.48 9.50 0 1 0 -10.97 0z" fill="#fff" stroke="#141414" stroke-width="0.91" vector-effect="non-scaling-stroke"/>
<path d="M-1.12 -8.84 A5.48 9.50 0 0 0 -1.12 8.84" fill="none" stroke="#141414" stroke-width="0.68" vector-effect="non-scaling-stroke" />
</g>
<g transform="translate(433.6 405.4) scale(1.1547 1) rotate(-30)">
<path d="M0 -18.30 H5.0 A10.57 18.30 0 0 1 5.0 18.30 H0z" fill="#fff" stroke="#141414" stroke-width="0.91" vector-effect="non-scaling-stroke" />
<ellipse cx="0" cy="0" rx="10.57" ry="18.30" fill="#fff" stroke="#141414" stroke-width="1.03" vector-effect="non-scaling-stroke"/>
<ellipse cx="0" cy="0" rx="5.20" ry="9.00" fill="none" stroke="#141414" stroke-width="1.03" vector-effect="non-scaling-stroke"/>
<path d="M0.94 -8.10 A5.20 9.00 0 0 0 0.94 8.10" fill="none" stroke="#141414" stroke-width="0.80" vector-effect="non-scaling-stroke" />
</g>
<g transform="translate(458.4 392.7) scale(1.1547 1) rotate(-30)">
<path d="M0 -10.7 h3.4 A6.18 10.7 0 0 1 3.4 10.7 h-3.4" fill="#fff" stroke="#141414" stroke-width="0.91" vector-effect="non-scaling-stroke" />
<path fill-rule="evenodd" d="M-6.18 0 a6.18 10.70 0 1 0 12.36 0 a6.18 10.70 0 1 0 -12.36 0z M-5.14 0 a5.14 8.90 0 1 0 10.28 0 a5.14 8.90 0 1 0 -10.28 0z" fill="#fff" stroke="#141414" stroke-width="0.91" vector-effect="non-scaling-stroke"/>
<path d="M0.16 -8.01 A5.14 8.90 0 0 0 0.16 8.01" fill="none" stroke="#141414" stroke-width="0.68" vector-effect="non-scaling-stroke" />
</g>
<g transform="translate(484.8 379.6) scale(1.1547 1) rotate(-30)">
<path d="M0 -18.50 H3.2 A10.68 18.50 0 0 1 3.2 18.50 H0z" fill="#fff" stroke="#141414" stroke-width="0.91" vector-effect="non-scaling-stroke" />
<path d="M1.80 -18.50 A10.68 18.50 0 0 1 1.80 18.50" fill="none" stroke="#141414" stroke-width="0.68" vector-effect="non-scaling-stroke" />
<ellipse cx="0" cy="0" rx="10.68" ry="18.50" fill="#fff" stroke="#141414" stroke-width="1.03" vector-effect="non-scaling-stroke"/>
<ellipse cx="0" cy="0" rx="7.39" ry="12.80" fill="none" stroke="#141414" stroke-width="0.91" vector-effect="non-scaling-stroke"/>
<path d="M-1.17 -11.01 A7.39 12.80 0 0 0 -1.17 11.01" fill="none" stroke="#141414" stroke-width="0.68" vector-effect="non-scaling-stroke" />
<path d="M-4.6 -9.6 L-5.8 -6 L-5.8 6 L-4.6 9.6" fill="none" stroke="#141414" stroke-width="0.91" vector-effect="non-scaling-stroke" />
<path d="M4.2 -10.6 L1.6 -11.4 M-1.6 11.4 L-4.2 10.6" fill="none" stroke="#141414" stroke-width="0.91" vector-effect="non-scaling-stroke" />
<path d="M-4.8 -11.6 h2.4 v2.4 h-2.4z" fill="none" stroke="#141414" stroke-width="0.91" vector-effect="non-scaling-stroke" />
<path d="M-4.8 9.200000000000001 h2.4 v2.4 h-2.4z" fill="none" stroke="#141414" stroke-width="0.91" vector-effect="non-scaling-stroke" />
<path d="M4.2 -9.399999999999999 h2.4 v2.4 h-2.4z" fill="none" stroke="#141414" stroke-width="0.91" vector-effect="non-scaling-stroke" />
<path d="M4.2 6.999999999999999 h2.4 v2.4 h-2.4z" fill="none" stroke="#141414" stroke-width="0.91" vector-effect="non-scaling-stroke" />
</g>
<g transform="translate(517.0 363.2) scale(1.1547 1) rotate(-30)">
<path d="M0 -19.40 H1.4 A11.20 19.40 0 0 1 1.4 19.40 H0z" fill="#fff" stroke="#141414" stroke-width="0.91" vector-effect="non-scaling-stroke" />
<ellipse cx="0" cy="0" rx="11.20" ry="19.40" fill="#fff" stroke="#141414" stroke-width="1.14" vector-effect="non-scaling-stroke"/>
<ellipse cx="0.5" cy="0" rx="8.31" ry="14.40" fill="none" stroke="#333" stroke-width="2.17" vector-effect="non-scaling-stroke"/>
<ellipse cx="0.8" cy="0" rx="7.39" ry="12.80" fill="none" stroke="#141414" stroke-width="0.68" vector-effect="non-scaling-stroke"/>
</g>
<g transform="translate(543.6 349) scale(1.1547 1) rotate(-30)">
<path d="M0 -11.4 h1.2 A6.58 11.4 0 0 1 1.2 11.4 h-1.2" fill="#fff" stroke="#141414" stroke-width="0.91" vector-effect="non-scaling-stroke" />
<path fill-rule="evenodd" d="M-6.58 0 a6.58 11.40 0 1 0 13.16 0 a6.58 11.40 0 1 0 -13.16 0z M-5.72 0 a5.72 9.90 0 1 0 11.43 0 a5.72 9.90 0 1 0 -11.43 0z" fill="#fff" stroke="#141414" stroke-width="0.91" vector-effect="non-scaling-stroke"/>
<path d="M-1.20 -9.21 A5.72 9.90 0 0 0 -1.20 9.21" fill="none" stroke="#141414" stroke-width="0.68" vector-effect="non-scaling-stroke" />
</g>
<g transform="translate(568.8 335.0) scale(1.1547 1) rotate(-30)">
<path d="M0 -10.90 H25 A6.29 10.90 0 0 1 25 10.90 H0z" fill="#fff" stroke="#141414" stroke-width="0.91" vector-effect="non-scaling-stroke" />
<path d="M22.60 -10.90 A6.29 10.90 0 0 1 22.60 10.90" fill="none" stroke="#141414" stroke-width="0.80" vector-effect="non-scaling-stroke" />
<path d="M21.20 -10.90 A6.29 10.90 0 0 1 21.20 10.90" fill="none" stroke="#141414" stroke-width="0.80" vector-effect="non-scaling-stroke" />
<path d="M0 -21.20 H1.5 A12.24 21.20 0 0 1 1.5 21.20 H0z" fill="#fff" stroke="#141414" stroke-width="1.03" vector-effect="non-scaling-stroke" />
<ellipse cx="0" cy="0" rx="12.24" ry="21.20" fill="#fff" stroke="#141414" stroke-width="1.14" vector-effect="non-scaling-stroke"/>
<ellipse cx="0" cy="0" rx="11.32" ry="19.60" fill="none" stroke="#141414" stroke-width="0.68" vector-effect="non-scaling-stroke"/>
<path d="M-3.4 -10.40 H0 A6.00 10.40 0 0 1 0 10.40 H-3.4z" fill="#fff" stroke="#141414" stroke-width="0.91" vector-effect="non-scaling-stroke" />
<ellipse cx="-3.4" cy="0" rx="6.00" ry="10.40" fill="#fff" stroke="#141414" stroke-width="1.03" vector-effect="non-scaling-stroke"/>
<ellipse cx="-3.4" cy="0" rx="4.73" ry="8.20" fill="none" stroke="#141414" stroke-width="0.91" vector-effect="non-scaling-stroke"/>
<path d="M-3.46 -7.38 A4.73 8.20 0 0 0 -3.46 7.38" fill="none" stroke="#141414" stroke-width="0.68" vector-effect="non-scaling-stroke" />
</g>
<g transform="translate(613.2 313.9) scale(1.1547 1) rotate(-30)">
<path d="M0 -8.90 H1.8 A5.14 8.90 0 0 1 1.8 8.90 H0z" fill="#fff" stroke="#141414" stroke-width="0.91" vector-effect="non-scaling-stroke" />
<ellipse cx="0" cy="0" rx="5.14" ry="8.90" fill="#fff" stroke="#141414" stroke-width="1.03" vector-effect="non-scaling-stroke"/>
<ellipse cx="0" cy="0" rx="1.33" ry="2.30" fill="#999" stroke="#141414" stroke-width="0.91" vector-effect="non-scaling-stroke"/>
</g>
<g transform="translate(627.6 306.4) scale(1.1547 1) rotate(-30)">
<path d="M0 -2.00 H7.4 A1.15 2.00 0 0 1 7.4 2.00 H0z" fill="#fff" stroke="#141414" stroke-width="0.91" vector-effect="non-scaling-stroke" />
<ellipse cx="0" cy="0" rx="1.15" ry="2.00" fill="#fff" stroke="#141414" stroke-width="0.91" vector-effect="non-scaling-stroke"/>
<path d="M7.4 -4.60 H8.4 A2.66 4.60 0 0 1 8.4 4.60 H7.4z" fill="#fff" stroke="#141414" stroke-width="0.91" vector-effect="non-scaling-stroke" />
<ellipse cx="7.4" cy="0" rx="2.66" ry="4.60" fill="#fff" stroke="#141414" stroke-width="1.03" vector-effect="non-scaling-stroke"/>
<path d="M8.4 -3.4 h3.4 l1.4 1.3 v4.2 l-1.4 1.3 h-3.4z M8.4 -1.2 h4.8 M8.4 1.2 h4.8" fill="#ddd" stroke="#141414" stroke-width="0.91" vector-effect="non-scaling-stroke" />
</g>
<path d="M350.6 449.4 L355.2 447.0" fill="none" stroke="#222" stroke-width="0.80" stroke-dasharray="4 1"/>
<path d="M403 421.4 L433.4 405.5" fill="none" stroke="#222" stroke-width="0.80" stroke-dasharray="11 2 1.6 2"/>
<path d="M449 397.6 L484.6 379.8" fill="none" stroke="#222" stroke-width="0.80" stroke-dasharray="11 2 1.6 2"/>
<path d="M500.6 371.8 L505.4 369.4" fill="none" stroke="#222" stroke-width="0.80" stroke-dasharray="8 1"/>
<circle cx="519.4" cy="361.6" r="0.6" fill="#222"/>
<path d="M533.4 355.0 L565.4 336.8" fill="none" stroke="#222" stroke-width="0.80" stroke-dasharray="11 2 1.6 2"/>
<path d="M601.6 319.6 L613.0 314.0" fill="none" stroke="#222" stroke-width="0.80" stroke-dasharray="1.6 3 8 1"/>
<path d="M620.4 310.2 L627 307" fill="none" stroke="#222" stroke-width="0.80" stroke-dasharray="6 1"/>
<line x1="275.3" y1="18" x2="275.3" y2="52" stroke="#222" stroke-width="0.80" />
<line x1="275.3" y1="58" x2="275.3" y2="76" stroke="#222" stroke-width="0.80" />
<line x1="275.3" y1="82" x2="275.3" y2="86" stroke="#222" stroke-width="0.80" />
<line x1="275.3" y1="94" x2="275.3" y2="128" stroke="#222" stroke-width="0.80" />
<line x1="275.3" y1="159" x2="275.3" y2="164" stroke="#222" stroke-width="0.80" />
<line x1="275.3" y1="182" x2="275.3" y2="212" stroke="#222" stroke-width="0.80" />
<line x1="275.3" y1="225" x2="275.3" y2="250" stroke="#222" stroke-width="0.80" />
<line x1="275.3" y1="267" x2="275.3" y2="289" stroke="#222" stroke-width="0.80" />
<line x1="275.3" y1="310" x2="275.3" y2="324.6" stroke="#222" stroke-width="0.80" />
<line x1="275.3" y1="329.6" x2="275.3" y2="332" stroke="#222" stroke-width="0.80" />
<line x1="275.3" y1="340" x2="275.3" y2="344" stroke="#222" stroke-width="0.80" />
<line x1="275.3" y1="352" x2="275.3" y2="364" stroke="#222" stroke-width="0.80" />
<line x1="275.3" y1="374" x2="275.3" y2="398" stroke="#222" stroke-width="0.80" />
<line x1="275.3" y1="406" x2="275.3" y2="430" stroke="#222" stroke-width="0.80" />
<line x1="275.3" y1="436" x2="275.3" y2="468" stroke="#222" stroke-width="0.80" />
<line x1="275.3" y1="486" x2="275.3" y2="494" stroke="#222" stroke-width="0.80" />
<line x1="275.3" y1="522" x2="275.3" y2="541" stroke="#222" stroke-width="0.80" />
<line x1="275.3" y1="54.5" x2="275.3" y2="55.5" stroke="#222" stroke-width="0.91" />
<line x1="275.3" y1="169.0" x2="275.3" y2="170.0" stroke="#222" stroke-width="0.91" />
<line x1="275.3" y1="175.0" x2="275.3" y2="176.0" stroke="#222" stroke-width="0.91" />
<line x1="275.3" y1="215.0" x2="275.3" y2="216.0" stroke="#222" stroke-width="0.91" />
<line x1="275.3" y1="218.0" x2="275.3" y2="219.0" stroke="#222" stroke-width="0.91" />
<line x1="275.3" y1="253.7" x2="275.3" y2="254.7" stroke="#222" stroke-width="0.91" />
<line x1="275.3" y1="260.3" x2="275.3" y2="261.3" stroke="#222" stroke-width="0.91" />
<line x1="275.3" y1="296.7" x2="275.3" y2="297.7" stroke="#222" stroke-width="0.91" />
<line x1="275.3" y1="302.8" x2="275.3" y2="303.8" stroke="#222" stroke-width="0.91" />
<line x1="275.3" y1="346.5" x2="275.3" y2="347.5" stroke="#222" stroke-width="0.91" />
<line x1="275.3" y1="432.3" x2="275.3" y2="433.3" stroke="#222" stroke-width="0.91" />
<line x1="275.3" y1="471.5" x2="275.3" y2="472.5" stroke="#222" stroke-width="0.91" />
<line x1="275.3" y1="479.5" x2="275.3" y2="480.5" stroke="#222" stroke-width="0.91" />
<line x1="275.3" y1="511.5" x2="275.3" y2="512.5" stroke="#222" stroke-width="0.91" />
<line x1="275.3" y1="517.0" x2="275.3" y2="518.0" stroke="#222" stroke-width="0.91" />
<line x1="240.7" y1="10.0" x2="262.4" y2="16.4" stroke="#444" stroke-width="0.65"/>
<circle cx="262.4" cy="16.4" r="0.8" fill="#222"/>
<circle cx="234.1" cy="8.1" r="6.9" fill="#fff" stroke="#555" stroke-width="0.7"/>
<text x="234.1" y="11.0" text-anchor="middle" font-size="8.1" fill="#4a4a4a" textLength="10.2" lengthAdjust="spacingAndGlyphs">32</text>
<line x1="350.1" y1="18.5" x2="325.6" y2="29.8" stroke="#444" stroke-width="0.65"/>
<circle cx="325.6" cy="29.8" r="0.8" fill="#222"/>
<circle cx="356.4" cy="15.6" r="6.9" fill="#fff" stroke="#555" stroke-width="0.7"/>
<text x="356.4" y="18.5" text-anchor="middle" font-size="8.1" fill="#4a4a4a" textLength="10.2" lengthAdjust="spacingAndGlyphs">40</text>
<line x1="363.2" y1="40.9" x2="385.8" y2="53.5" stroke="#444" stroke-width="0.65"/>
<circle cx="385.8" cy="53.5" r="0.8" fill="#222"/>
<circle cx="357.2" cy="37.5" r="6.9" fill="#fff" stroke="#555" stroke-width="0.7"/>
<text x="357.2" y="40.4" text-anchor="middle" font-size="8.1" fill="#4a4a4a" textLength="10.2" lengthAdjust="spacingAndGlyphs">30</text>
<line x1="432.0" y1="24.0" x2="402.8" y2="36.4" stroke="#444" stroke-width="0.65"/>
<circle cx="402.8" cy="36.4" r="0.8" fill="#222"/>
<circle cx="438.4" cy="21.3" r="6.9" fill="#fff" stroke="#555" stroke-width="0.7"/>
<text x="438.4" y="24.2" text-anchor="middle" font-size="8.1" fill="#4a4a4a" textLength="10.2" lengthAdjust="spacingAndGlyphs">31</text>
<line x1="431.9" y1="50.0" x2="402.4" y2="60.4" stroke="#444" stroke-width="0.65"/>
<circle cx="402.4" cy="60.4" r="0.8" fill="#222"/>
<circle cx="438.4" cy="47.7" r="6.9" fill="#fff" stroke="#555" stroke-width="0.7"/>
<text x="438.4" y="50.6" text-anchor="middle" font-size="8.1" fill="#4a4a4a" textLength="10.2" lengthAdjust="spacingAndGlyphs">29</text>
<line x1="158.8" y1="44.7" x2="169.8" y2="62.4" stroke="#444" stroke-width="0.65"/>
<circle cx="169.8" cy="62.4" r="0.8" fill="#222"/>
<circle cx="155.2" cy="38.8" r="6.9" fill="#fff" stroke="#555" stroke-width="0.7"/>
<text x="155.2" y="41.699999999999996" text-anchor="middle" font-size="8.1" fill="#4a4a4a" textLength="10.2" lengthAdjust="spacingAndGlyphs">34</text>
<line x1="188.2" y1="44.8" x2="202.2" y2="69.4" stroke="#444" stroke-width="0.65"/>
<circle cx="202.2" cy="69.4" r="0.8" fill="#222"/>
<circle cx="184.8" cy="38.8" r="6.9" fill="#fff" stroke="#555" stroke-width="0.7"/>
<text x="184.8" y="41.699999999999996" text-anchor="middle" font-size="8.1" fill="#4a4a4a" textLength="10.2" lengthAdjust="spacingAndGlyphs">33</text>
<line x1="219.0" y1="112.1" x2="235.6" y2="114.9" stroke="#444" stroke-width="0.65"/>
<circle cx="235.6" cy="114.9" r="0.8" fill="#222"/>
<circle cx="212.2" cy="110.9" r="6.9" fill="#fff" stroke="#555" stroke-width="0.7"/>
<text x="212.2" y="113.80000000000001" text-anchor="middle" font-size="8.1" fill="#4a4a4a" textLength="10.2" lengthAdjust="spacingAndGlyphs">03</text>
<line x1="608.1" y1="136.7" x2="560" y2="113.6" stroke="#444" stroke-width="0.65"/>
<circle cx="560" cy="113.6" r="0.8" fill="#222"/>
<circle cx="614.3" cy="139.7" r="6.9" fill="#fff" stroke="#555" stroke-width="0.7"/>
<text x="614.3" y="142.6" text-anchor="middle" font-size="8.1" fill="#4a4a4a" textLength="10.2" lengthAdjust="spacingAndGlyphs">28</text>
<line x1="483.1" y1="183.7" x2="438.4" y2="154.8" stroke="#444" stroke-width="0.65"/>
<circle cx="438.4" cy="154.8" r="0.8" fill="#222"/>
<circle cx="488.9" cy="187.4" r="6.9" fill="#fff" stroke="#555" stroke-width="0.7"/>
<text x="488.9" y="190.3" text-anchor="middle" font-size="8.1" fill="#4a4a4a" textLength="10.2" lengthAdjust="spacingAndGlyphs">27</text>
<line x1="528.3" y1="167.2" x2="496.4" y2="149" stroke="#444" stroke-width="0.65"/>
<circle cx="496.4" cy="149" r="0.8" fill="#222"/>
<circle cx="534.3" cy="170.6" r="6.9" fill="#fff" stroke="#555" stroke-width="0.7"/>
<text x="534.3" y="173.5" text-anchor="middle" font-size="8.1" fill="#4a4a4a" textLength="10.2" lengthAdjust="spacingAndGlyphs">01</text>
<line x1="219.6" y1="167.1" x2="250.4" y2="175.6" stroke="#444" stroke-width="0.65"/>
<circle cx="250.4" cy="175.6" r="0.8" fill="#222"/>
<circle cx="212.9" cy="165.3" r="6.9" fill="#fff" stroke="#555" stroke-width="0.7"/>
<text x="212.9" y="168.20000000000002" text-anchor="middle" font-size="8.1" fill="#4a4a4a" textLength="10.2" lengthAdjust="spacingAndGlyphs">26</text>
<line x1="219.6" y1="190.0" x2="257.2" y2="200.4" stroke="#444" stroke-width="0.65"/>
<circle cx="257.2" cy="200.4" r="0.8" fill="#222"/>
<circle cx="212.9" cy="188.2" r="6.9" fill="#fff" stroke="#555" stroke-width="0.7"/>
<text x="212.9" y="191.1" text-anchor="middle" font-size="8.1" fill="#4a4a4a" textLength="10.2" lengthAdjust="spacingAndGlyphs">25</text>
<line x1="219.5" y1="211.0" x2="257.9" y2="222.6" stroke="#444" stroke-width="0.65"/>
<circle cx="257.9" cy="222.6" r="0.8" fill="#222"/>
<circle cx="212.9" cy="209.0" r="6.9" fill="#fff" stroke="#555" stroke-width="0.7"/>
<text x="212.9" y="211.9" text-anchor="middle" font-size="8.1" fill="#4a4a4a" textLength="10.2" lengthAdjust="spacingAndGlyphs">24</text>
<line x1="219.5" y1="230.5" x2="264.3" y2="243.6" stroke="#444" stroke-width="0.65"/>
<circle cx="264.3" cy="243.6" r="0.8" fill="#222"/>
<circle cx="212.9" cy="228.6" r="6.9" fill="#fff" stroke="#555" stroke-width="0.7"/>
<text x="212.9" y="231.5" text-anchor="middle" font-size="8.1" fill="#4a4a4a" textLength="10.2" lengthAdjust="spacingAndGlyphs">23</text>
<line x1="219.3" y1="264.6" x2="265.3" y2="275.9" stroke="#444" stroke-width="0.65"/>
<circle cx="265.3" cy="275.9" r="0.8" fill="#222"/>
<circle cx="212.6" cy="263.0" r="6.9" fill="#fff" stroke="#555" stroke-width="0.7"/>
<text x="212.6" y="265.9" text-anchor="middle" font-size="8.1" fill="#4a4a4a" textLength="10.2" lengthAdjust="spacingAndGlyphs">22</text>
<line x1="219.2" y1="292.4" x2="262.0" y2="303.0" stroke="#444" stroke-width="0.65"/>
<circle cx="262.0" cy="303.0" r="0.8" fill="#222"/>
<circle cx="212.5" cy="290.7" r="6.9" fill="#fff" stroke="#555" stroke-width="0.7"/>
<text x="212.5" y="293.59999999999997" text-anchor="middle" font-size="8.1" fill="#4a4a4a" textLength="10.2" lengthAdjust="spacingAndGlyphs">18</text>
<line x1="219.2" y1="324.1" x2="265.0" y2="335.4" stroke="#444" stroke-width="0.65"/>
<circle cx="265.0" cy="335.4" r="0.8" fill="#222"/>
<circle cx="212.5" cy="322.5" r="6.9" fill="#fff" stroke="#555" stroke-width="0.7"/>
<text x="212.5" y="325.4" text-anchor="middle" font-size="8.1" fill="#4a4a4a" textLength="10.2" lengthAdjust="spacingAndGlyphs">17</text>
<line x1="220.0" y1="393.5" x2="234.8" y2="396" stroke="#444" stroke-width="0.65"/>
<circle cx="234.8" cy="396" r="0.8" fill="#222"/>
<circle cx="213.2" cy="392.4" r="6.9" fill="#fff" stroke="#555" stroke-width="0.7"/>
<text x="213.2" y="395.29999999999995" text-anchor="middle" font-size="8.1" fill="#4a4a4a" textLength="10.2" lengthAdjust="spacingAndGlyphs">02</text>
<line x1="219.2" y1="424.9" x2="257.8" y2="432.4" stroke="#444" stroke-width="0.65"/>
<circle cx="257.8" cy="432.4" r="0.8" fill="#222"/>
<circle cx="212.4" cy="423.6" r="6.9" fill="#fff" stroke="#555" stroke-width="0.7"/>
<text x="212.4" y="426.5" text-anchor="middle" font-size="8.1" fill="#4a4a4a" textLength="10.2" lengthAdjust="spacingAndGlyphs">16</text>
<line x1="418.8" y1="258.0" x2="400.6" y2="250.4" stroke="#444" stroke-width="0.65"/>
<circle cx="400.6" cy="250.4" r="0.8" fill="#222"/>
<circle cx="425.2" cy="260.6" r="6.9" fill="#fff" stroke="#555" stroke-width="0.7"/>
<text x="425.2" y="263.5" text-anchor="middle" font-size="8.1" fill="#4a4a4a" textLength="10.2" lengthAdjust="spacingAndGlyphs">21</text>
<line x1="386.9" y1="273.6" x2="370.6" y2="265.6" stroke="#444" stroke-width="0.65"/>
<circle cx="370.6" cy="265.6" r="0.8" fill="#222"/>
<circle cx="393.1" cy="276.7" r="6.9" fill="#fff" stroke="#555" stroke-width="0.7"/>
<text x="393.1" y="279.59999999999997" text-anchor="middle" font-size="8.1" fill="#4a4a4a" textLength="10.2" lengthAdjust="spacingAndGlyphs">20</text>
<line x1="357.1" y1="288.1" x2="342.4" y2="279.4" stroke="#444" stroke-width="0.65"/>
<circle cx="342.4" cy="279.4" r="0.8" fill="#222"/>
<circle cx="363.0" cy="291.6" r="6.9" fill="#fff" stroke="#555" stroke-width="0.7"/>
<text x="363.0" y="294.5" text-anchor="middle" font-size="8.1" fill="#4a4a4a" textLength="10.2" lengthAdjust="spacingAndGlyphs">19</text>
<line x1="179.5" y1="482.2" x2="207.4" y2="489.6" stroke="#444" stroke-width="0.65"/>
<circle cx="207.4" cy="489.6" r="0.8" fill="#222"/>
<circle cx="172.8" cy="480.4" r="6.9" fill="#fff" stroke="#555" stroke-width="0.7"/>
<text x="172.8" y="483.29999999999995" text-anchor="middle" font-size="8.1" fill="#4a4a4a" textLength="10.2" lengthAdjust="spacingAndGlyphs">39</text>
<line x1="179.1" y1="512.4" x2="209.4" y2="525.4" stroke="#444" stroke-width="0.65"/>
<circle cx="209.4" cy="525.4" r="0.8" fill="#222"/>
<circle cx="172.8" cy="509.7" r="6.9" fill="#fff" stroke="#555" stroke-width="0.7"/>
<text x="172.8" y="512.6" text-anchor="middle" font-size="8.1" fill="#4a4a4a" textLength="10.2" lengthAdjust="spacingAndGlyphs">37</text>
<line x1="179.3" y1="529.7" x2="201.6" y2="537.2" stroke="#444" stroke-width="0.65"/>
<circle cx="201.6" cy="537.2" r="0.8" fill="#222"/>
<circle cx="172.8" cy="527.5" r="6.9" fill="#fff" stroke="#555" stroke-width="0.7"/>
<text x="172.8" y="530.4" text-anchor="middle" font-size="8.1" fill="#4a4a4a" textLength="10.2" lengthAdjust="spacingAndGlyphs">38</text>
<line x1="234.8" y1="532.9" x2="244.6" y2="528.2" stroke="#444" stroke-width="0.65"/>
<circle cx="244.6" cy="528.2" r="0.8" fill="#222"/>
<circle cx="228.6" cy="535.9" r="6.9" fill="#fff" stroke="#555" stroke-width="0.7"/>
<text x="228.6" y="538.8" text-anchor="middle" font-size="8.1" fill="#4a4a4a" textLength="10.2" lengthAdjust="spacingAndGlyphs">35</text>
<line x1="234.5" y1="548.4" x2="245.4" y2="541.6" stroke="#444" stroke-width="0.65"/>
<circle cx="245.4" cy="541.6" r="0.8" fill="#222"/>
<circle cx="228.6" cy="552.1" r="6.9" fill="#fff" stroke="#555" stroke-width="0.7"/>
<text x="228.6" y="555.0" text-anchor="middle" font-size="8.1" fill="#4a4a4a" textLength="10.2" lengthAdjust="spacingAndGlyphs">36</text>
<line x1="309.8" y1="550.0" x2="288.4" y2="542.4" stroke="#444" stroke-width="0.65"/>
<circle cx="288.4" cy="542.4" r="0.8" fill="#222"/>
<circle cx="316.3" cy="552.3" r="6.9" fill="#fff" stroke="#555" stroke-width="0.7"/>
<text x="316.3" y="555.1999999999999" text-anchor="middle" font-size="8.1" fill="#4a4a4a" textLength="10.2" lengthAdjust="spacingAndGlyphs">32</text>
<line x1="321.6" y1="511.4" x2="338.0" y2="502.4" stroke="#444" stroke-width="0.65"/>
<circle cx="338.0" cy="502.4" r="0.8" fill="#222"/>
<circle cx="315.5" cy="514.7" r="6.9" fill="#fff" stroke="#555" stroke-width="0.7"/>
<text x="315.5" y="517.6" text-anchor="middle" font-size="8.1" fill="#4a4a4a" textLength="10.2" lengthAdjust="spacingAndGlyphs">35</text>
<line x1="321.3" y1="530.0" x2="355.0" y2="508.6" stroke="#444" stroke-width="0.65"/>
<circle cx="355.0" cy="508.6" r="0.8" fill="#222"/>
<circle cx="315.5" cy="533.7" r="6.9" fill="#fff" stroke="#555" stroke-width="0.7"/>
<text x="315.5" y="536.6" text-anchor="middle" font-size="8.1" fill="#4a4a4a" textLength="10.2" lengthAdjust="spacingAndGlyphs">36</text>
<line x1="366.4" y1="487.6" x2="341.6" y2="474" stroke="#444" stroke-width="0.65"/>
<circle cx="341.6" cy="474" r="0.8" fill="#222"/>
<circle cx="372.4" cy="490.9" r="6.9" fill="#fff" stroke="#555" stroke-width="0.7"/>
<text x="372.4" y="493.79999999999995" text-anchor="middle" font-size="8.1" fill="#4a4a4a" textLength="10.2" lengthAdjust="spacingAndGlyphs">04</text>
<line x1="391.4" y1="474.4" x2="351.6" y2="453.6" stroke="#444" stroke-width="0.65"/>
<circle cx="351.6" cy="453.6" r="0.8" fill="#222"/>
<circle cx="397.5" cy="477.6" r="6.9" fill="#fff" stroke="#555" stroke-width="0.7"/>
<text x="397.5" y="480.5" text-anchor="middle" font-size="8.1" fill="#4a4a4a" textLength="10.2" lengthAdjust="spacingAndGlyphs">05</text>
<line x1="420.1" y1="459.9" x2="385.4" y2="442.6" stroke="#444" stroke-width="0.65"/>
<circle cx="385.4" cy="442.6" r="0.8" fill="#222"/>
<circle cx="426.3" cy="463.0" r="6.9" fill="#fff" stroke="#555" stroke-width="0.7"/>
<text x="426.3" y="465.9" text-anchor="middle" font-size="8.1" fill="#4a4a4a" textLength="10.2" lengthAdjust="spacingAndGlyphs">06</text>
<line x1="449.9" y1="444.6" x2="416.4" y2="427" stroke="#444" stroke-width="0.65"/>
<circle cx="416.4" cy="427" r="0.8" fill="#222"/>
<circle cx="456.0" cy="447.8" r="6.9" fill="#fff" stroke="#555" stroke-width="0.7"/>
<text x="456.0" y="450.7" text-anchor="middle" font-size="8.1" fill="#4a4a4a" textLength="10.2" lengthAdjust="spacingAndGlyphs">07</text>
<line x1="475.8" y1="431.2" x2="449.6" y2="417.8" stroke="#444" stroke-width="0.65"/>
<circle cx="449.6" cy="417.8" r="0.8" fill="#222"/>
<circle cx="481.9" cy="434.4" r="6.9" fill="#fff" stroke="#555" stroke-width="0.7"/>
<text x="481.9" y="437.29999999999995" text-anchor="middle" font-size="8.1" fill="#4a4a4a" textLength="10.2" lengthAdjust="spacingAndGlyphs">08</text>
<line x1="500.9" y1="417.7" x2="469.2" y2="400.8" stroke="#444" stroke-width="0.65"/>
<circle cx="469.2" cy="400.8" r="0.8" fill="#222"/>
<circle cx="507.0" cy="421.0" r="6.9" fill="#fff" stroke="#555" stroke-width="0.7"/>
<text x="507.0" y="423.9" text-anchor="middle" font-size="8.1" fill="#4a4a4a" textLength="10.2" lengthAdjust="spacingAndGlyphs">09</text>
<line x1="526.7" y1="404.2" x2="501.4" y2="390.6" stroke="#444" stroke-width="0.65"/>
<circle cx="501.4" cy="390.6" r="0.8" fill="#222"/>
<circle cx="532.8" cy="407.5" r="6.9" fill="#fff" stroke="#555" stroke-width="0.7"/>
<text x="532.8" y="410.4" text-anchor="middle" font-size="8.1" fill="#4a4a4a" textLength="10.2" lengthAdjust="spacingAndGlyphs">10</text>
<line x1="555.1" y1="390.0" x2="530.4" y2="376.6" stroke="#444" stroke-width="0.65"/>
<circle cx="530.4" cy="376.6" r="0.8" fill="#222"/>
<circle cx="561.2" cy="393.3" r="6.9" fill="#fff" stroke="#555" stroke-width="0.7"/>
<text x="561.2" y="396.2" text-anchor="middle" font-size="8.1" fill="#4a4a4a" textLength="10.2" lengthAdjust="spacingAndGlyphs">11</text>
<line x1="584.5" y1="375.2" x2="549.4" y2="357.4" stroke="#444" stroke-width="0.65"/>
<circle cx="549.4" cy="357.4" r="0.8" fill="#222"/>
<circle cx="590.7" cy="378.3" r="6.9" fill="#fff" stroke="#555" stroke-width="0.7"/>
<text x="590.7" y="381.2" text-anchor="middle" font-size="8.1" fill="#4a4a4a" textLength="10.2" lengthAdjust="spacingAndGlyphs">12</text>
<line x1="624.8" y1="354.9" x2="592.6" y2="338.4" stroke="#444" stroke-width="0.65"/>
<circle cx="592.6" cy="338.4" r="0.8" fill="#222"/>
<circle cx="630.9" cy="358.0" r="6.9" fill="#fff" stroke="#555" stroke-width="0.7"/>
<text x="630.9" y="360.9" text-anchor="middle" font-size="8.1" fill="#4a4a4a" textLength="10.2" lengthAdjust="spacingAndGlyphs">13</text>
<line x1="654.9" y1="338.8" x2="619.6" y2="320.4" stroke="#444" stroke-width="0.65"/>
<circle cx="619.6" cy="320.4" r="0.8" fill="#222"/>
<circle cx="661.0" cy="342.0" r="6.9" fill="#fff" stroke="#555" stroke-width="0.7"/>
<text x="661.0" y="344.9" text-anchor="middle" font-size="8.1" fill="#4a4a4a" textLength="10.2" lengthAdjust="spacingAndGlyphs">14</text>
<line x1="673.7" y1="329.7" x2="637.4" y2="307.6" stroke="#444" stroke-width="0.65"/>
<circle cx="637.4" cy="307.6" r="0.8" fill="#222"/>
<circle cx="679.6" cy="333.3" r="6.9" fill="#fff" stroke="#555" stroke-width="0.7"/>
<text x="679.6" y="336.2" text-anchor="middle" font-size="8.1" fill="#4a4a4a" textLength="10.2" lengthAdjust="spacingAndGlyphs">15</text>
<text x="205.2" y="360" font-size="11" fill="#111" textLength="11.3" lengthAdjust="spacingAndGlyphs">41</text>
<line x1="220.2" y1="357.2" x2="250.6" y2="364.4" stroke="#111" stroke-width="1.08" />
</g>
</svg>
</body></html>
